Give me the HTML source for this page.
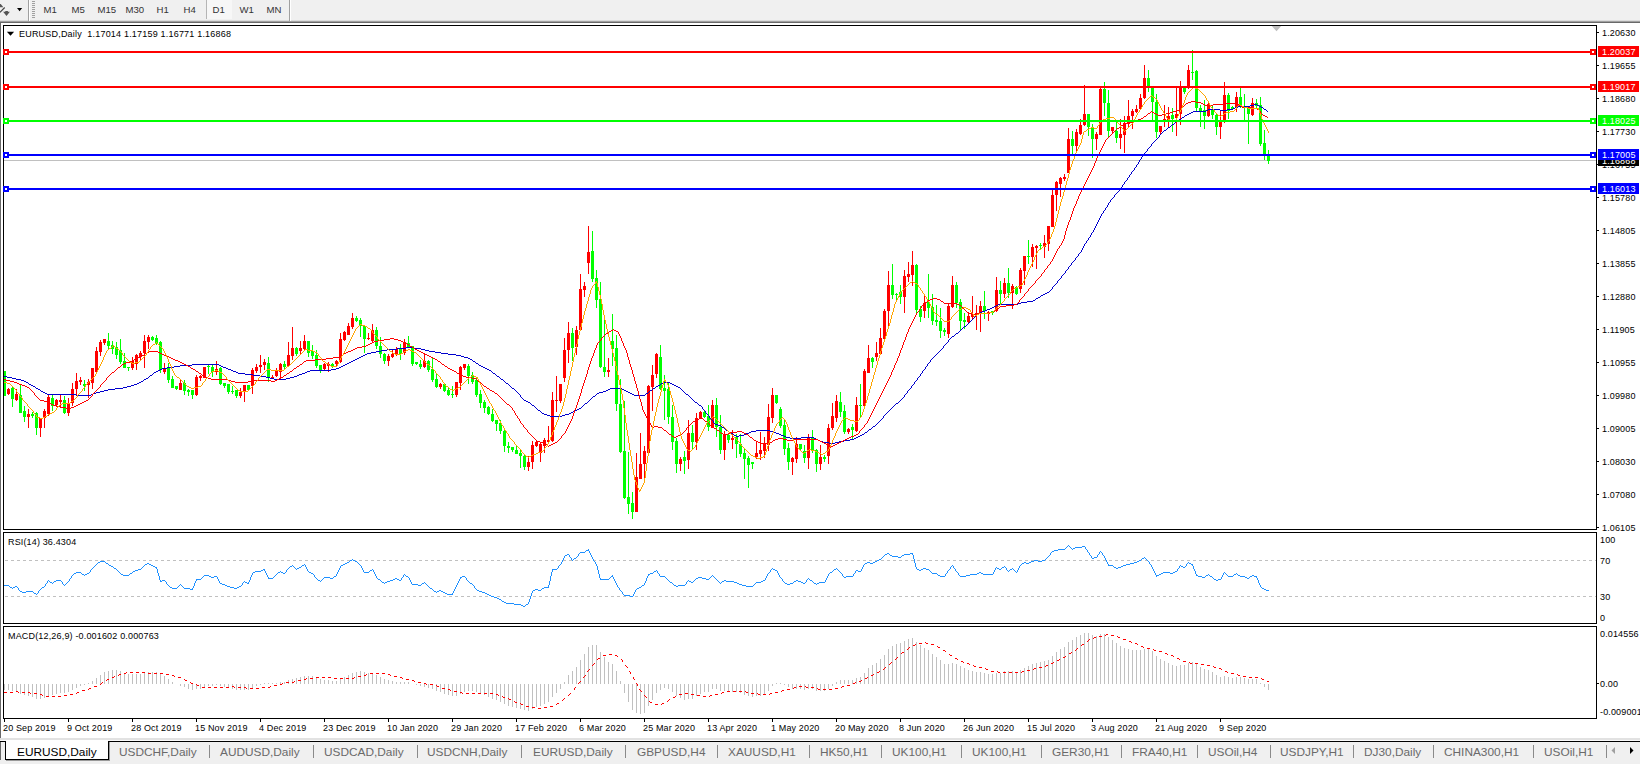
<!DOCTYPE html>
<html><head><meta charset="utf-8"><title>EURUSD,Daily</title>
<style>
html,body{margin:0;padding:0;overflow:hidden}
body{width:1640px;height:764px;overflow:hidden;background:#f0f0f0;position:relative;font-family:"Liberation Sans",sans-serif;font-size:9px;color:#000}
.abs{position:absolute}
.tb{position:absolute;top:0;height:19px;line-height:19px;font-size:9.6px;color:#333;white-space:nowrap;margin-left:.5px}
.white{position:absolute;left:1px;top:23px;width:1639px;height:715px;background:#fff}
.ln{position:absolute;background:#000}
.lbl{position:absolute;left:1602px;height:10px;line-height:10px;font-size:9px;white-space:nowrap;letter-spacing:0.15px;transform:translateY(0.7px)}
.tick{position:absolute;left:1597px;width:2px;height:1px;background:#000}
.box{position:absolute;left:1598px;width:41px;height:11px;line-height:11px;font-size:9px;color:#fff;white-space:nowrap;letter-spacing:0.15px}
.box span{display:inline-block;margin-left:4px;transform:translateY(0.5px)}
.hl{position:absolute;left:4px;width:1592px;height:2px}
.mk{position:absolute;width:2px;height:2px;border:2px solid;background:#fff}
.dt{position:absolute;top:722px;height:11px;line-height:11px;font-size:9px;white-space:nowrap;letter-spacing:0.14px;margin-left:-1px;transform:translateY(0.6px)}
.dtk{position:absolute;top:719px;width:1px;height:3px;background:#000}
.tab{position:absolute;top:743px;height:16px;line-height:16px;font-size:11px;color:#6a6a6a;white-space:nowrap;transform:translateY(0.7px) scaleX(1.077);transform-origin:0 0}
.sep{position:absolute;top:745px;width:1px;height:13px;background:#8a8a8a}
</style></head><body>
<!-- toolbar -->
<div class="abs" style="left:0;top:20px;width:1640px;height:1px;background:#dcdcdc"></div>
<div class="abs" style="left:0;top:21px;width:1640px;height:1px;background:#a0a0a0"></div>
<div class="abs" style="left:0;top:22px;width:1640px;height:1px;background:#696969"></div>
<svg class="abs" style="left:0;top:0" width="30" height="20" viewBox="0 0 30 20"><path d="M0 3.9h.7l2.3 2.8v.6H0z" fill="#555"/><path d="M0 12.4L4.7 7.5" stroke="#444" stroke-width="1.1" fill="none"/><path d="M3.1 11.7h2.2v-.6h2.6v.6h2L6.5 16z" fill="#555"/><path d="M17 8h5.2l-2.6 3.2z" fill="#000"/></svg>
<div class="abs" style="left:28px;top:0;width:1px;height:21px;background:#a0a0a0"></div>
<div class="abs" style="left:29px;top:0;width:1px;height:21px;background:#fff"></div>
<div class="abs" style="left:32px;top:1px;width:3px;height:17px;background:repeating-linear-gradient(#a0a0a0 0 1px,#f0f0f0 1px 2px)"></div>
<div class="tb" style="left:43px">M1</div>
<div class="tb" style="left:71px">M5</div>
<div class="tb" style="left:97px">M15</div>
<div class="tb" style="left:125px">M30</div>
<div class="tb" style="left:156px">H1</div>
<div class="tb" style="left:183px">H4</div>
<div class="abs" style="left:206px;top:0;width:25px;height:19px;background:#f7f7f7;border-left:1px solid #b5b5b5"></div>
<div class="tb" style="left:212px">D1</div>
<div class="tb" style="left:239px">W1</div>
<div class="tb" style="left:266px">MN</div>
<div class="abs" style="left:289px;top:0;width:1px;height:21px;background:#a0a0a0"></div>
<div class="abs" style="left:290px;top:0;width:1px;height:21px;background:#fff"></div>
<!-- chart window -->
<div class="white"></div>
<div class="abs" style="left:0;top:22px;width:1px;height:717px;background:#696969"></div>
<!-- frame lines -->
<div class="ln" style="left:3px;top:25px;width:1594px;height:1px"></div>
<div class="ln" style="left:3px;top:25px;width:1px;height:694px"></div>
<div class="ln" style="left:1596px;top:25px;width:1px;height:694px"></div>
<div class="ln" style="left:3px;top:529px;width:1594px;height:1px"></div>
<div class="abs" style="left:3px;top:530px;width:1594px;height:2px;background:#fff"></div>
<div class="ln" style="left:3px;top:532px;width:1594px;height:1px"></div>
<div class="ln" style="left:3px;top:623px;width:1594px;height:1px"></div>
<div class="abs" style="left:3px;top:624px;width:1594px;height:2px;background:#fff"></div>
<div class="ln" style="left:3px;top:626px;width:1594px;height:1px"></div>
<div class="ln" style="left:3px;top:718px;width:1594px;height:1px"></div>
<div class="tick" style="top:32px"></div><div class="lbl" style="top:27px">1.20630</div>
<div class="tick" style="top:65px"></div><div class="lbl" style="top:60px">1.19655</div>
<div class="tick" style="top:98px"></div><div class="lbl" style="top:93px">1.18680</div>
<div class="tick" style="top:131px"></div><div class="lbl" style="top:126px">1.17730</div>
<div class="tick" style="top:164px"></div><div class="lbl" style="top:159px">1.16755</div>
<div class="tick" style="top:197px"></div><div class="lbl" style="top:192px">1.15780</div>
<div class="tick" style="top:230px"></div><div class="lbl" style="top:225px">1.14805</div>
<div class="tick" style="top:263px"></div><div class="lbl" style="top:258px">1.13855</div>
<div class="tick" style="top:296px"></div><div class="lbl" style="top:291px">1.12880</div>
<div class="tick" style="top:329px"></div><div class="lbl" style="top:324px">1.11905</div>
<div class="tick" style="top:362px"></div><div class="lbl" style="top:357px">1.10955</div>
<div class="tick" style="top:395px"></div><div class="lbl" style="top:390px">1.09980</div>
<div class="tick" style="top:428px"></div><div class="lbl" style="top:423px">1.09005</div>
<div class="tick" style="top:461px"></div><div class="lbl" style="top:456px">1.08030</div>
<div class="tick" style="top:494px"></div><div class="lbl" style="top:489px">1.07080</div>
<div class="tick" style="top:527px"></div><div class="lbl" style="top:522px">1.06105</div>
<div class="lbl" style="left:1600px;top:534px">100</div>
<div class="lbl" style="left:1600px;top:555px">70</div>
<div class="lbl" style="left:1600px;top:591px">30</div>
<div class="lbl" style="left:1600px;top:612px">0</div>
<div class="lbl" style="left:1600px;top:628px">0.014556</div>
<div class="lbl" style="left:1600px;top:678px">0.00</div>
<div class="lbl" style="left:1600px;top:706px">-0.009001</div>
<div class="tick" style="top:683px;width:2px"></div>
<svg class="abs" style="left:0;top:0" width="1640" height="764" shape-rendering="crispEdges"><path d="M5 560.5H1596M5 596.5H1596" stroke="#c0c0c0" stroke-width="1" stroke-dasharray="3 3" fill="none"/></svg>
<svg width="1640" height="764" viewBox="0 0 1640 764" style="position:absolute;left:0;top:0" shape-rendering="crispEdges">
<rect x="4" y="160" width="1592" height="1" fill="#c0c0c0"/>
<defs><clipPath id="cc"><rect x="4" y="26" width="1592" height="503"/></clipPath></defs><g clip-path="url(#cc)">
<path d="M4.5 371V396M12.5 386V407M20.5 385V413M24.5 406V422M32.5 412V418M36.5 412V435M52.5 395V411M64.5 396V414M84.5 380V391M108.5 333V349M112.5 341V354M116.5 342V359M120.5 339V364M124.5 353V368M128.5 367V371M152.5 336V341M156.5 335V345M160.5 341V373M168.5 363V383M172.5 376V388M176.5 386V390M184.5 380V395M188.5 389V396M192.5 390V399M208.5 365V374M212.5 365V377M220.5 367V385M224.5 383V388M228.5 384V394M232.5 386V394M236.5 390V398M248.5 385V390M268.5 357V382M284.5 361V370M296.5 347V356M308.5 341V357M312.5 345V359M316.5 350V368M320.5 365V373M332.5 363V368M356.5 316V322M360.5 318V337M364.5 325V353M376.5 327V349M380.5 337V358M384.5 353V364M400.5 344V360M408.5 336V348M412.5 346V366M416.5 362V365M420.5 360V369M428.5 360V372M432.5 357V382M436.5 374V388M444.5 383V392M448.5 388V396M452.5 386V398M468.5 364V384M472.5 372V384M476.5 377V397M480.5 390V408M484.5 400V413M488.5 406V415M492.5 409V422M496.5 420V431M500.5 420V434M504.5 430V452M508.5 442V453M512.5 447V452M516.5 446V454M520.5 449V468M524.5 455V470M572.5 328V361M592.5 231V282M596.5 270V308M600.5 282V368M604.5 315V377M612.5 314V366M616.5 335V411M620.5 379V453M624.5 401V499M628.5 452V514M632.5 492V519M660.5 345V390M664.5 375V420M668.5 383V424M672.5 405V450M676.5 438V473M684.5 451V474M692.5 425V449M704.5 411V418M708.5 405V431M716.5 398V437M720.5 415V454M728.5 433V443M736.5 434V458M740.5 434V457M744.5 449V479M748.5 456V488M752.5 462V469M776.5 395V404M780.5 407V428M784.5 419V455M788.5 443V470M800.5 444V450M804.5 445V463M812.5 430V453M816.5 449V472M824.5 455V462M840.5 392V417M844.5 405V434M852.5 424V440M860.5 384V418M872.5 357V368M892.5 264V299M896.5 293V300M900.5 285V304M916.5 264V315M920.5 306V322M928.5 274V318M932.5 294V325M936.5 305V326M940.5 308V338M944.5 328V336M956.5 282V308M960.5 299V331M964.5 313V329M984.5 291V319M992.5 311V315M1000.5 281V305M1008.5 268V298M1016.5 286V295M1028.5 240V264M1040.5 243V249M1072.5 131V156M1088.5 114V136M1092.5 124V158M1104.5 82V116M1108.5 90V137M1116.5 121V143M1148.5 70V92M1152.5 86V120M1156.5 94V138M1172.5 108V132M1184.5 87V94M1192.5 50V80M1196.5 70V111M1200.5 105V127M1204.5 100V129M1212.5 105V119M1216.5 114V135M1228.5 93V119M1232.5 106V110M1240.5 88V108M1244.5 94V120M1248.5 106V144M1256.5 99V108M1260.5 97V146M1264.5 130V160M1268.5 150V164" fill="none" stroke="#00ff00" stroke-width="1"/>
<path d="M3 371h3v25h-3zM11 388h3v11h-3zM19 395h3v18h-3zM23 411h3v6h-3zM31 414h3v2h-3zM35 413h3v15h-3zM51 398h3v8h-3zM63 400h3v13h-3zM83 384h3v2h-3zM107 341h3v5h-3zM111 345h3v4h-3zM115 347h3v8h-3zM119 350h3v12h-3zM123 361h3v7h-3zM127 367h3v1h-3zM151 337h3v3h-3zM155 338h3v5h-3zM159 342h3v28h-3zM167 368h3v12h-3zM171 379h3v9h-3zM175 386h3v3h-3zM183 383h3v8h-3zM187 390h3v2h-3zM191 390h3v5h-3zM207 366h3v1h-3zM211 367h3v5h-3zM219 368h3v16h-3zM223 383h3v3h-3zM227 384h3v8h-3zM231 391h3v1h-3zM235 390h3v6h-3zM247 385h3v5h-3zM267 363h3v14h-3zM283 364h3v3h-3zM295 348h3v6h-3zM307 341h3v12h-3zM311 351h3v5h-3zM315 355h3v11h-3zM319 365h3v6h-3zM331 364h3v3h-3zM355 318h3v3h-3zM359 320h3v6h-3zM363 326h3v13h-3zM375 330h3v16h-3zM379 346h3v8h-3zM383 354h3v7h-3zM399 349h3v5h-3zM407 343h3v4h-3zM411 346h3v18h-3zM415 362h3v2h-3zM419 364h3v3h-3zM427 361h3v9h-3zM431 369h3v11h-3zM435 379h3v8h-3zM443 384h3v7h-3zM447 390h3v5h-3zM451 394h3v1h-3zM467 366h3v10h-3zM471 375h3v7h-3zM475 380h3v15h-3zM479 394h3v9h-3zM483 402h3v6h-3zM487 407h3v7h-3zM491 414h3v7h-3zM495 420h3v4h-3zM499 423h3v8h-3zM503 431h3v15h-3zM507 446h3v2h-3zM511 447h3v3h-3zM515 450h3v4h-3zM519 453h3v3h-3zM523 456h3v11h-3zM571 333h3v15h-3zM591 251h3v28h-3zM595 278h3v22h-3zM599 299h3v68h-3zM603 367h3v5h-3zM611 341h3v8h-3zM615 348h3v56h-3zM619 404h3v48h-3zM623 451h3v47h-3zM627 497h3v7h-3zM631 503h3v9h-3zM659 357h3v32h-3zM663 388h3v3h-3zM667 389h3v28h-3zM671 417h3v25h-3zM675 441h3v23h-3zM683 457h3v4h-3zM691 433h3v9h-3zM703 412h3v5h-3zM707 416h3v11h-3zM715 405h3v22h-3zM719 427h3v23h-3zM727 435h3v5h-3zM735 437h3v7h-3zM739 444h3v10h-3zM743 453h3v6h-3zM747 458h3v7h-3zM751 462h3v2h-3zM775 395h3v8h-3zM779 409h3v17h-3zM783 425h3v24h-3zM787 448h3v14h-3zM799 444h3v5h-3zM803 451h3v7h-3zM811 437h3v14h-3zM815 450h3v14h-3zM823 457h3v2h-3zM839 402h3v10h-3zM843 411h3v21h-3zM851 427h3v3h-3zM859 405h3v1h-3zM871 358h3v4h-3zM891 285h3v10h-3zM895 294h3v1h-3zM899 292h3v5h-3zM915 265h3v45h-3zM919 309h3v8h-3zM927 302h3v6h-3zM931 307h3v14h-3zM935 320h3v2h-3zM939 321h3v10h-3zM943 330h3v2h-3zM955 285h3v18h-3zM959 302h3v19h-3zM963 320h3v2h-3zM983 306h3v5h-3zM991 311h3v2h-3zM999 290h3v4h-3zM1007 283h3v10h-3zM1015 287h3v7h-3zM1027 256h3v1h-3zM1039 245h3v1h-3zM1071 139h3v7h-3zM1087 114h3v13h-3zM1091 127h3v12h-3zM1103 89h3v14h-3zM1107 103h3v28h-3zM1115 131h3v7h-3zM1147 78h3v9h-3zM1151 87h3v15h-3zM1155 102h3v30h-3zM1171 115h3v4h-3zM1183 88h3v4h-3zM1191 72h3v1h-3zM1195 71h3v37h-3zM1199 108h3v3h-3zM1203 110h3v6h-3zM1211 109h3v6h-3zM1215 115h3v12h-3zM1227 95h3v16h-3zM1231 107h3v2h-3zM1239 97h3v9h-3zM1243 106h3v2h-3zM1247 108h3v6h-3zM1255 103h3v3h-3zM1259 105h3v39h-3zM1263 143h3v12h-3zM1267 156h3v5h-3z" fill="#00ff00" stroke="none"/>
<path d="M8.5 388V395M16.5 389V401M28.5 409V428M40.5 418V437M44.5 409V428M48.5 395V416M56.5 399V407M60.5 395V407M68.5 398V416M72.5 383V406M76.5 373V396M80.5 377V385M88.5 379V398M92.5 368V389M96.5 347V372M100.5 340V356M104.5 339V345M132.5 357V370M136.5 354V370M140.5 351V361M144.5 335V368M148.5 335V349M164.5 363V374M180.5 380V390M196.5 375V396M200.5 375V381M204.5 367V378M216.5 361V375M240.5 388V398M244.5 385V402M252.5 368V394M256.5 364V373M260.5 355V373M264.5 359V370M272.5 375V379M276.5 368V377M280.5 363V378M288.5 342V367M292.5 327V360M300.5 341V354M304.5 335V350M324.5 363V371M328.5 362V372M336.5 360V367M340.5 333V363M344.5 331V341M348.5 323V335M352.5 313V329M368.5 333V340M372.5 324V342M388.5 354V366M392.5 350V358M396.5 347V356M404.5 339V355M424.5 353V368M440.5 383V389M456.5 382V397M460.5 366V390M464.5 364V370M528.5 456V471M532.5 441V469M536.5 441V447M540.5 442V462M544.5 438V453M548.5 426V442M552.5 392V442M556.5 376V412M560.5 384V403M564.5 338V382M568.5 322V363M576.5 326V355M580.5 274V330M584.5 282V297M588.5 226V274M608.5 358V377M636.5 453V512M640.5 433V479M644.5 446V479M648.5 385V453M652.5 365V411M656.5 353V378M680.5 457V471M688.5 420V469M696.5 413V450M700.5 411V419M712.5 400V428M724.5 431V460M732.5 430V449M756.5 441V459M760.5 432V460M764.5 437V458M768.5 404V451M772.5 388V423M792.5 457V475M796.5 437V463M808.5 434V469M820.5 445V470M828.5 424V464M832.5 403V430M836.5 395V422M848.5 428V434M856.5 397V432M864.5 369V407M868.5 345V373M876.5 342V361M880.5 328V354M884.5 309V341M888.5 271V328M904.5 270V313M908.5 262V282M912.5 251V286M924.5 294V318M948.5 304V338M952.5 276V308M968.5 313V323M972.5 296V319M976.5 305V330M980.5 301V332M988.5 311V321M996.5 277V312M1004.5 278V298M1012.5 284V309M1020.5 268V293M1024.5 256V285M1032.5 244V267M1036.5 245V269M1044.5 235V258M1048.5 226V251M1052.5 189V227M1056.5 181V211M1060.5 177V197M1064.5 174V181M1068.5 128V173M1076.5 129V153M1080.5 119V135M1084.5 85V126M1096.5 132V150M1100.5 87V135M1112.5 127V133M1120.5 119V149M1124.5 116V153M1128.5 100V127M1132.5 109V129M1136.5 105V113M1140.5 94V109M1144.5 65V99M1160.5 126V135M1164.5 105V127M1168.5 107V128M1176.5 87V136M1180.5 81V125M1188.5 65V89M1208.5 103V117M1220.5 111V139M1224.5 82V123M1236.5 92V112M1252.5 98V116" fill="none" stroke="#ff0000" stroke-width="1"/>
<path d="M7 389h3v5h-3zM15 394h3v6h-3zM27 414h3v3h-3zM39 418h3v10h-3zM43 411h3v7h-3zM47 397h3v17h-3zM55 400h3v5h-3zM59 400h3v2h-3zM67 403h3v10h-3zM71 389h3v14h-3zM75 381h3v8h-3zM79 380h3v2h-3zM87 382h3v3h-3zM91 368h3v15h-3zM95 351h3v21h-3zM99 342h3v10h-3zM103 339h3v4h-3zM131 361h3v7h-3zM135 355h3v9h-3zM139 353h3v4h-3zM143 341h3v12h-3zM147 337h3v5h-3zM163 368h3v4h-3zM179 383h3v7h-3zM195 377h3v18h-3zM199 376h3v2h-3zM203 367h3v11h-3zM215 369h3v3h-3zM239 392h3v4h-3zM243 385h3v7h-3zM251 370h3v16h-3zM255 367h3v4h-3zM259 365h3v2h-3zM263 362h3v3h-3zM271 377h3v2h-3zM275 370h3v6h-3zM279 364h3v8h-3zM287 355h3v11h-3zM291 348h3v8h-3zM299 348h3v3h-3zM303 341h3v8h-3zM323 364h3v5h-3zM327 364h3v2h-3zM335 361h3v3h-3zM339 339h3v23h-3zM343 332h3v8h-3zM347 326h3v9h-3zM351 318h3v9h-3zM367 338h3v1h-3zM371 330h3v11h-3zM387 356h3v5h-3zM391 354h3v3h-3zM395 349h3v6h-3zM403 342h3v11h-3zM423 361h3v6h-3zM439 384h3v3h-3zM455 382h3v13h-3zM459 367h3v16h-3zM463 364h3v4h-3zM527 462h3v5h-3zM531 445h3v17h-3zM535 442h3v4h-3zM539 444h3v9h-3zM543 440h3v6h-3zM547 440h3v2h-3zM551 400h3v41h-3zM555 400h3v1h-3zM559 384h3v17h-3zM563 350h3v28h-3zM567 333h3v17h-3zM575 330h3v17h-3zM579 289h3v41h-3zM583 286h3v4h-3zM587 252h3v11h-3zM607 370h3v2h-3zM635 477h3v35h-3zM639 464h3v15h-3zM643 451h3v13h-3zM647 386h3v67h-3zM651 375h3v12h-3zM655 354h3v20h-3zM679 459h3v5h-3zM687 433h3v27h-3zM695 418h3v24h-3zM699 412h3v6h-3zM711 405h3v23h-3zM723 434h3v16h-3zM731 438h3v2h-3zM755 453h3v4h-3zM759 450h3v4h-3zM763 444h3v7h-3zM767 417h3v28h-3zM771 395h3v23h-3zM791 458h3v4h-3zM795 444h3v15h-3zM807 438h3v20h-3zM819 457h3v7h-3zM827 428h3v28h-3zM831 416h3v12h-3zM835 401h3v17h-3zM847 429h3v3h-3zM855 405h3v26h-3zM863 371h3v35h-3zM867 358h3v15h-3zM875 353h3v4h-3zM879 338h3v16h-3zM883 311h3v28h-3zM887 285h3v26h-3zM903 276h3v21h-3zM907 274h3v3h-3zM911 265h3v10h-3zM923 303h3v8h-3zM947 306h3v28h-3zM951 285h3v22h-3zM967 316h3v6h-3zM971 314h3v3h-3zM975 313h3v2h-3zM979 306h3v8h-3zM987 312h3v2h-3zM995 290h3v21h-3zM1003 283h3v11h-3zM1011 286h3v7h-3zM1019 270h3v19h-3zM1023 256h3v15h-3zM1031 247h3v10h-3zM1035 246h3v2h-3zM1043 243h3v4h-3zM1047 226h3v18h-3zM1051 195h3v32h-3zM1055 182h3v13h-3zM1059 178h3v6h-3zM1063 177h3v2h-3zM1067 139h3v34h-3zM1075 132h3v14h-3zM1079 125h3v9h-3zM1083 114h3v11h-3zM1095 134h3v5h-3zM1099 89h3v46h-3zM1111 127h3v4h-3zM1119 134h3v4h-3zM1123 123h3v12h-3zM1127 116h3v8h-3zM1131 111h3v5h-3zM1135 109h3v3h-3zM1139 98h3v11h-3zM1143 78h3v20h-3zM1159 126h3v6h-3zM1163 119h3v1h-3zM1167 116h3v4h-3zM1175 114h3v4h-3zM1179 86h3v28h-3zM1187 70h3v18h-3zM1207 104h3v12h-3zM1219 122h3v5h-3zM1223 95h3v27h-3zM1235 97h3v10h-3zM1251 103h3v12h-3z" fill="#ff0000" stroke="none"/>
</g>
</svg>
<svg width="1640" height="764" viewBox="0 0 1640 764" style="position:absolute;left:0;top:0" shape-rendering="crispEdges">
<path d="M397 348h9v1h-9zM414 348h7v1h-7zM137 383h2v1h-2zM506 383h2v1h-2zM661 383h2v1h-2zM670 383h2v1h-2zM150 375h2v1h-2zM253 375h7v1h-7zM297 375h2v1h-2zM524 400h2v1h-2zM786 437h4v1h-4zM801 437h13v1h-13zM856 437h2v1h-2zM47 394h29v1h-29zM91 394h2v1h-2zM632 394h2v1h-2zM686 394h2v1h-2zM1238 106h12v1h-12zM1259 106h2v1h-2zM192 364h27v1h-27zM345 364h2v1h-2zM43 392h2v1h-2zM96 392h4v1h-4zM599 392h4v1h-4zM628 392h2v1h-2zM160 369h2v1h-2zM228 369h3v1h-3zM331 369h5v1h-5zM487 369h2v1h-2zM371 352h5v1h-5zM435 352h6v1h-6zM731 433h2v1h-2zM746 433h3v1h-3zM776 433h3v1h-3zM36 388h2v1h-2zM115 388h8v1h-8zM512 388h2v1h-2zM610 388h12v1h-12zM653 388h2v1h-2zM1235 107h3v1h-3zM1261 107h2v1h-2zM820 441h3v1h-3zM839 441h5v1h-5zM158 370h2v1h-2zM231 370h2v1h-2zM310 370h21v1h-21zM489 370h2v1h-2zM734 435h2v1h-2zM739 435h5v1h-5zM781 435h3v1h-3zM860 435h2v1h-2zM41 391h2v1h-2zM100 391h4v1h-4zM603 391h3v1h-3zM626 391h2v1h-2zM1208 109h12v1h-12zM1227 109h6v1h-6zM1264 109h2v1h-2zM76 395h15v1h-15zM634 395h11v1h-11zM16 379h5v1h-5zM144 379h2v1h-2zM274 379h12v1h-12zM501 379h2v1h-2zM1189 113h2v1h-2zM38 389h2v1h-2zM108 389h7v1h-7zM608 389h2v1h-2zM622 389h2v1h-2zM528 402h2v1h-2zM695 402h2v1h-2zM376 351h5v1h-5zM429 351h6v1h-6zM547 415h3v1h-3zM562 415h3v1h-3zM33 386h2v1h-2zM127 386h4v1h-4zM656 386h2v1h-2zM676 386h2v1h-2zM26 382h2v1h-2zM139 382h2v1h-2zM663 382h7v1h-7zM7 377h5v1h-5zM266 377h4v1h-4zM290 377h4v1h-4zM365 354h2v1h-2zM448 354h8v1h-8zM715 424h3v1h-3zM996 305h2v1h-2zM579 408h2v1h-2zM1193 111h13v1h-13zM353 360h2v1h-2zM1191 112h2v1h-2zM406 347h8v1h-8zM573 411h2v1h-2zM1187 114h2v1h-2zM538 410h2v1h-2zM575 410h2v1h-2zM174 366h6v1h-6zM221 366h2v1h-2zM341 366h2v1h-2zM481 366h2v1h-2zM167 367h7v1h-7zM223 367h3v1h-3zM339 367h2v1h-2zM483 367h2v1h-2zM526 401h2v1h-2zM363 355h2v1h-2zM456 355h5v1h-5zM12 378h4v1h-4zM146 378h2v1h-2zM270 378h4v1h-4zM286 378h4v1h-4zM4 376h3v1h-3zM260 376h6v1h-6zM294 376h3v1h-3zM497 376h2v1h-2zM998 304h20v1h-20zM245 374h8v1h-8zM299 374h3v1h-3zM1172 124h2v1h-2zM156 371h2v1h-2zM233 371h3v1h-3zM307 371h3v1h-3zM790 438h11v1h-11zM814 438h2v1h-2zM854 438h2v1h-2zM550 416h12v1h-12zM1021 302h6v1h-6zM381 350h6v1h-6zM425 350h4v1h-4zM744 434h2v1h-2zM779 434h2v1h-2zM862 434h2v1h-2zM355 359h2v1h-2zM470 359h2v1h-2zM823 442h6v1h-6zM835 442h4v1h-4zM736 436h3v1h-3zM784 436h2v1h-2zM858 436h2v1h-2zM361 356h2v1h-2zM461 356h3v1h-3zM816 439h2v1h-2zM850 439h4v1h-4zM956 333h2v1h-2zM154 372h2v1h-2zM236 372h2v1h-2zM305 372h2v1h-2zM818 440h2v1h-2zM844 440h6v1h-6zM1036 298h2v1h-2zM104 390h4v1h-4zM606 390h2v1h-2zM624 390h2v1h-2zM650 390h2v1h-2zM751 431h5v1h-5zM770 431h3v1h-3zM585 403h2v1h-2zM896 403h2v1h-2zM532 405h2v1h-2zM699 405h2v1h-2zM544 414h3v1h-3zM565 414h4v1h-4zM729 432h2v1h-2zM749 432h2v1h-2zM773 432h3v1h-3zM865 432h2v1h-2zM45 393h2v1h-2zM93 393h3v1h-3zM597 393h2v1h-2zM630 393h2v1h-2zM646 393h2v1h-2zM873 426h2v1h-2zM238 373h7v1h-7zM302 373h3v1h-3zM493 373h2v1h-2zM349 362h2v1h-2zM1250 105h4v1h-4zM1257 105h2v1h-2zM351 361h2v1h-2zM473 361h2v1h-2zM985 310h2v1h-2zM1033 300h2v1h-2zM387 349h10v1h-10zM421 349h4v1h-4zM180 365h12v1h-12zM219 365h2v1h-2zM343 365h2v1h-2zM479 365h2v1h-2zM726 430h2v1h-2zM756 430h14v1h-14zM1206 110h2v1h-2zM1220 110h7v1h-7zM1179 119h2v1h-2zM29 384h2v1h-2zM134 384h3v1h-3zM672 384h2v1h-2zM869 429h2v1h-2zM123 387h4v1h-4zM678 387h2v1h-2zM1164 130h2v1h-2zM577 409h2v1h-2zM359 357h2v1h-2zM464 357h4v1h-4zM1233 108h2v1h-2zM1254 104h3v1h-3zM994 306h2v1h-2zM162 368h5v1h-5zM226 368h2v1h-2zM336 368h3v1h-3zM485 368h2v1h-2zM542 413h2v1h-2zM569 413h2v1h-2zM571 412h2v1h-2zM829 443h6v1h-6zM1043 294h2v1h-2zM24 381h2v1h-2zM141 381h2v1h-2zM1045 293h2v1h-2zM718 425h3v1h-3zM1185 115h2v1h-2zM982 311h3v1h-3zM367 353h4v1h-4zM441 353h7v1h-7zM1168 127h2v1h-2zM31 385h2v1h-2zM131 385h3v1h-3zM658 385h2v1h-2zM674 385h2v1h-2zM1176 121h2v1h-2zM1041 295h2v1h-2zM992 307h2v1h-2zM1027 301h6v1h-6zM722 427h2v1h-2zM952 336h2v1h-2zM1018 303h3v1h-3zM21 380h3v1h-3zM357 358h2v1h-2zM468 358h2v1h-2zM1038 297h2v1h-2zM987 309h3v1h-3zM980 312h2v1h-2zM347 363h2v1h-2zM476 363h2v1h-2zM593 396h2v1h-2zM990 308h2v1h-2zM1047 292h2v1h-2zM978 313h2v1h-2zM964 326h2v1h-2zM1182 117h2v1h-2zM1063 274h1v1h-1zM920 374h1v2h-1zM1095 226h1v2h-1zM589 400h1v1h-1zM967 324h1v1h-1zM1087 240h1v1h-1zM881 419h1v1h-1zM495 374h1v1h-1zM1103 211h1v2h-1zM509 385h1v1h-1zM960 330h1v1h-1zM1127 178h1v2h-1zM1112 198h1v1h-1zM1139 160h1v2h-1zM510 386h1v1h-1zM1071 263h1v2h-1zM1151 144h1v2h-1zM1107 205h1v2h-1zM680 388h1v1h-1zM1083 246h1v2h-1zM649 391h1v1h-1zM900 400h1v1h-1zM1052 287h1v2h-1zM681 389h1v1h-1zM713 421h1v2h-1zM1099 218h1v2h-1zM916 380h1v1h-1zM939 351h1v1h-1zM884 415h1v1h-1zM531 404h1v1h-1zM911 386h1v2h-1zM1174 123h1v1h-1zM1118 191h1v1h-1zM923 370h1v1h-1zM974 317h1v1h-1zM908 390h1v1h-1zM1130 174h1v1h-1zM523 399h1v1h-1zM702 407h1v2h-1zM936 354h1v1h-1zM705 411h1v2h-1zM872 427h1v1h-1zM1115 194h1v1h-1zM706 413h1v1h-1zM1158 137h1v1h-1zM1094 228h1v2h-1zM876 424h1v1h-1zM504 381h1v1h-1zM1110 200h1v2h-1zM505 382h1v1h-1zM516 391h1v1h-1zM891 408h1v1h-1zM1178 120h1v1h-1zM1090 235h1v2h-1zM478 364h1v1h-1zM698 404h1v1h-1zM1106 207h1v1h-1zM1051 289h1v1h-1zM1098 220h1v2h-1zM943 346h1v2h-1zM888 411h1v1h-1zM728 431h1v1h-1zM1142 156h1v1h-1zM537 409h1v1h-1zM148 377h1v1h-1zM883 416h1v2h-1zM694 401h1v1h-1zM697 403h1v1h-1zM919 376h1v1h-1zM962 328h1v1h-1zM907 391h1v2h-1zM1126 180h1v1h-1zM931 359h1v1h-1zM1129 175h1v2h-1zM951 337h1v1h-1zM1138 162h1v2h-1zM1150 146h1v1h-1zM966 325h1v1h-1zM914 382h1v2h-1zM1054 285h1v1h-1zM946 343h1v1h-1zM949 339h1v1h-1zM1035 299h1v1h-1zM1145 152h1v1h-1zM1082 248h1v2h-1zM895 404h1v1h-1zM1070 265h1v1h-1zM500 378h1v1h-1zM591 398h1v1h-1zM1161 133h1v1h-1zM511 387h1v1h-1zM1184 116h1v1h-1zM648 392h1v1h-1zM1065 271h1v2h-1zM595 395h1v1h-1zM693 400h1v1h-1zM922 371h1v2h-1zM1062 275h1v1h-1zM1086 241h1v2h-1zM969 322h1v1h-1zM682 390h1v1h-1zM938 352h1v1h-1zM1102 213h1v1h-1zM582 406h1v1h-1zM1114 195h1v2h-1zM1117 192h1v1h-1zM1093 230h1v2h-1zM1153 142h1v1h-1zM878 422h1v1h-1zM1141 157h1v2h-1zM867 431h1v1h-1zM902 398h1v1h-1zM1124 182h1v2h-1zM1109 202h1v1h-1zM1136 165h1v2h-1zM871 428h1v1h-1zM1148 148h1v1h-1zM708 415h1v1h-1zM976 315h1v1h-1zM1105 208h1v2h-1zM910 388h1v1h-1zM1097 222h1v2h-1zM1120 188h1v1h-1zM1089 237h1v1h-1zM905 394h1v1h-1zM496 375h1v1h-1zM1057 281h1v2h-1zM1073 261h1v1h-1zM707 414h1v1h-1zM875 425h1v1h-1zM933 357h1v1h-1zM893 406h1v1h-1zM913 384h1v1h-1zM1068 267h1v2h-1zM925 367h1v2h-1zM928 363h1v1h-1zM1081 250h1v2h-1zM492 372h1v1h-1zM1163 131h1v1h-1zM890 409h1v1h-1zM1108 203h1v2h-1zM1132 171h1v1h-1zM1144 153h1v2h-1zM945 344h1v1h-1zM1167 128h1v1h-1zM1076 257h1v1h-1zM1079 253h1v1h-1zM971 320h1v1h-1zM590 399h1v1h-1zM882 418h1v1h-1zM921 373h1v1h-1zM491 371h1v1h-1zM1096 224h1v2h-1zM968 323h1v1h-1zM1155 140h1v1h-1zM1056 283h1v1h-1zM1123 184h1v1h-1zM904 395h1v2h-1zM948 340h1v2h-1zM1135 167h1v1h-1zM517 392h1v1h-1zM733 434h1v1h-1zM1147 149h1v2h-1zM1092 232h1v1h-1zM1171 125h1v1h-1zM688 395h1v1h-1zM1064 273h1v1h-1zM1175 122h1v1h-1zM924 369h1v1h-1zM1088 238h1v2h-1zM940 350h1v1h-1zM885 414h1v1h-1zM152 374h1v1h-1zM584 404h1v1h-1zM1059 279h1v1h-1zM975 316h1v1h-1zM710 418h1v1h-1zM1128 177h1v1h-1zM1104 210h1v1h-1zM1266 110h1v1h-1zM955 334h1v1h-1zM475 362h1v1h-1zM1075 258h1v2h-1zM684 392h1v1h-1zM901 399h1v1h-1zM724 428h1v1h-1zM959 331h1v1h-1zM725 429h1v1h-1zM1067 269h1v1h-1zM1100 216h1v2h-1zM520 395h1v2h-1zM899 401h1v1h-1zM709 416h1v2h-1zM1119 189h1v2h-1zM1122 185h1v2h-1zM892 407h1v1h-1zM1131 172h1v2h-1zM912 385h1v1h-1zM1134 168h1v2h-1zM588 401h1v1h-1zM880 420h1v1h-1zM683 391h1v1h-1zM1091 233h1v2h-1zM581 407h1v1h-1zM1162 132h1v1h-1zM877 423h1v1h-1zM935 355h1v1h-1zM1111 199h1v1h-1zM932 358h1v1h-1zM927 364h1v2h-1zM930 360h1v2h-1zM660 384h1v1h-1zM472 360h1v1h-1zM947 342h1v1h-1zM1078 254h1v2h-1zM973 318h1v1h-1zM1181 118h1v1h-1zM1146 151h1v1h-1zM1166 129h1v1h-1zM592 397h1v1h-1zM970 321h1v1h-1zM942 348h1v1h-1zM519 394h1v1h-1zM690 397h1v1h-1zM534 406h1v1h-1zM652 389h1v1h-1zM1101 214h1v2h-1zM1154 141h1v1h-1zM915 381h1v1h-1zM918 377h1v1h-1zM903 397h1v1h-1zM1055 284h1v1h-1zM1125 181h1v1h-1zM1058 280h1v1h-1zM950 338h1v1h-1zM864 433h1v1h-1zM1137 164h1v1h-1zM645 394h1v1h-1zM954 335h1v1h-1zM1050 290h1v1h-1zM887 412h1v1h-1zM712 420h1v1h-1zM518 393h1v1h-1zM1066 270h1v1h-1zM1157 138h1v1h-1zM1160 134h1v1h-1zM530 403h1v1h-1zM1061 276h1v2h-1zM689 396h1v1h-1zM508 384h1v1h-1zM583 405h1v1h-1zM143 380h1v1h-1zM1085 243h1v1h-1zM701 406h1v1h-1zM587 402h1v1h-1zM711 419h1v1h-1zM879 421h1v1h-1zM937 353h1v1h-1zM868 430h1v1h-1zM961 329h1v1h-1zM1074 260h1v1h-1zM1113 197h1v1h-1zM958 332h1v1h-1zM1149 147h1v1h-1zM540 411h1v1h-1zM1267 111h1v1h-1zM1053 286h1v1h-1zM40 390h1v1h-1zM541 412h1v1h-1zM977 314h1v1h-1zM35 387h1v1h-1zM1121 187h1v1h-1zM926 366h1v1h-1zM1133 170h1v1h-1zM906 393h1v1h-1zM909 389h1v1h-1zM1116 193h1v1h-1zM1152 143h1v1h-1zM1077 256h1v1h-1zM503 380h1v1h-1zM934 356h1v1h-1zM685 393h1v1h-1zM515 390h1v1h-1zM894 405h1v1h-1zM917 378h1v2h-1zM1069 266h1v1h-1zM1072 262h1v1h-1zM929 362h1v1h-1zM521 397h1v1h-1zM1084 244h1v2h-1zM898 402h1v1h-1zM522 398h1v1h-1zM703 409h1v1h-1zM536 408h1v1h-1zM704 410h1v1h-1zM1263 108h1v1h-1zM1080 252h1v1h-1zM499 377h1v1h-1zM28 383h1v1h-1zM972 319h1v1h-1zM1159 135h1v2h-1zM1049 291h1v1h-1zM1140 159h1v1h-1zM941 349h1v1h-1zM886 413h1v1h-1zM1143 155h1v1h-1zM514 389h1v1h-1zM149 376h1v1h-1zM1156 139h1v1h-1zM153 373h1v1h-1zM963 327h1v1h-1zM655 387h1v1h-1zM1040 296h1v1h-1zM691 398h1v1h-1zM535 407h1v1h-1zM889 410h1v1h-1zM721 426h1v1h-1zM692 399h1v1h-1zM714 423h1v1h-1zM1170 126h1v1h-1zM944 345h1v1h-1zM596 394h1v1h-1zM1060 278h1v1h-1z" fill="#0000cd"/>
<path d="M699 418h4v1h-4zM208 378h3v1h-3zM279 378h2v1h-2zM472 378h4v1h-4zM118 367h2v1h-2zM693 421h2v1h-2zM705 421h2v1h-2zM775 439h3v1h-3zM783 439h4v1h-4zM793 439h25v1h-25zM845 439h2v1h-2zM10 381h4v1h-4zM231 381h4v1h-4zM248 381h5v1h-5zM271 381h4v1h-4zM112 372h2v1h-2zM540 442h4v1h-4zM555 442h2v1h-2zM758 442h3v1h-3zM770 442h2v1h-2zM822 442h2v1h-2zM839 442h2v1h-2zM1186 103h2v1h-2zM1201 103h2v1h-2zM1223 103h15v1h-15zM537 441h3v1h-3zM756 441h2v1h-2zM820 441h2v1h-2zM841 441h2v1h-2zM374 341h4v1h-4zM401 341h2v1h-2zM967 312h2v1h-2zM990 312h3v1h-3zM48 402h2v1h-2zM82 402h2v1h-2zM553 443h2v1h-2zM761 443h9v1h-9zM824 443h2v1h-2zM837 443h2v1h-2zM124 363h2v1h-2zM182 363h2v1h-2zM149 351h9v1h-9zM348 351h3v1h-3zM419 351h2v1h-2zM366 345h2v1h-2zM754 440h2v1h-2zM773 440h2v1h-2zM787 440h6v1h-6zM818 440h2v1h-2zM843 440h2v1h-2zM138 357h2v1h-2zM169 357h2v1h-2zM333 357h7v1h-7zM431 357h2v1h-2zM669 434h2v1h-2zM680 434h2v1h-2zM723 434h5v1h-5zM746 434h2v1h-2zM856 434h2v1h-2zM492 391h2v1h-2zM1242 107h11v1h-11zM193 369h2v1h-2zM450 369h2v1h-2zM1188 102h3v1h-3zM1196 102h5v1h-5zM204 376h2v1h-2zM463 376h3v1h-3zM737 431h5v1h-5zM357 347h5v1h-5zM412 347h2v1h-2zM1158 115h4v1h-4zM1263 115h2v1h-2zM1173 111h4v1h-4zM191 368h2v1h-2zM294 368h2v1h-2zM448 368h2v1h-2zM51 404h2v1h-2zM78 404h2v1h-2zM507 404h2v1h-2zM147 352h2v1h-2zM158 352h2v1h-2zM346 352h2v1h-2zM421 352h2v1h-2zM355 348h2v1h-2zM831 446h2v1h-2zM362 346h4v1h-4zM410 346h2v1h-2zM142 355h2v1h-2zM164 355h2v1h-2zM427 355h2v1h-2zM17 383h2v1h-2zM368 344h2v1h-2zM407 344h2v1h-2zM1205 105h8v1h-8zM1239 105h2v1h-2zM1133 121h3v1h-3zM495 393h2v1h-2zM674 437h2v1h-2zM750 437h2v1h-2zM849 437h2v1h-2zM199 373h2v1h-2zM287 373h2v1h-2zM457 373h2v1h-2zM933 298h4v1h-4zM196 371h2v1h-2zM290 371h2v1h-2zM454 371h2v1h-2zM134 359h2v1h-2zM173 359h2v1h-2zM315 359h11v1h-11zM435 359h2v1h-2zM1123 124h3v1h-3zM730 432h7v1h-7zM742 432h2v1h-2zM27 387h2v1h-2zM186 365h2v1h-2zM14 382h3v1h-3zM235 382h13v1h-13zM479 382h2v1h-2zM487 388h2v1h-2zM126 362h4v1h-4zM180 362h2v1h-2zM19 384h3v1h-3zM959 305h2v1h-2zM1006 305h8v1h-8zM973 314h4v1h-4zM53 405h3v1h-3zM76 405h2v1h-2zM696 419h3v1h-3zM132 360h2v1h-2zM175 360h3v1h-3zM306 360h9v1h-9zM60 407h6v1h-6zM71 407h3v1h-3zM452 370h2v1h-2zM378 340h6v1h-6zM398 340h3v1h-3zM145 353h2v1h-2zM160 353h2v1h-2zM344 353h2v1h-2zM423 353h2v1h-2zM370 343h2v1h-2zM405 343h2v1h-2zM941 301h2v1h-2zM162 354h2v1h-2zM425 354h2v1h-2zM1253 108h4v1h-4zM778 438h5v1h-5zM847 438h2v1h-2zM6 380h4v1h-4zM228 380h3v1h-3zM253 380h18v1h-18zM275 380h2v1h-2zM384 339h6v1h-6zM394 339h4v1h-4zM678 435h2v1h-2zM854 435h2v1h-2zM944 303h13v1h-13zM930 299h3v1h-3zM937 299h3v1h-3zM1156 114h2v1h-2zM1162 114h4v1h-4zM459 374h2v1h-2zM372 342h2v1h-2zM403 342h2v1h-2zM56 406h4v1h-4zM74 406h2v1h-2zM40 400h4v1h-4zM86 400h2v1h-2zM969 313h4v1h-4zM977 313h13v1h-13zM490 390h2v1h-2zM188 366h2v1h-2zM297 366h2v1h-2zM445 366h2v1h-2zM721 433h2v1h-2zM728 433h2v1h-2zM744 433h2v1h-2zM136 358h2v1h-2zM171 358h2v1h-2zM326 358h7v1h-7zM433 358h2v1h-2zM664 430h2v1h-2zM717 430h2v1h-2zM1148 113h2v1h-2zM1154 113h2v1h-2zM1166 113h4v1h-4zM351 350h2v1h-2zM417 350h2v1h-2zM545 444h2v1h-2zM551 444h2v1h-2zM835 444h2v1h-2zM652 427h2v1h-2zM658 427h4v1h-4zM44 401h4v1h-4zM84 401h2v1h-2zM353 349h2v1h-2zM415 349h2v1h-2zM25 386h2v1h-2zM484 386h2v1h-2zM654 426h4v1h-4zM4 379h2v1h-2zM211 379h17v1h-17zM277 379h2v1h-2zM1203 104h2v1h-2zM1213 104h10v1h-10zM206 377h2v1h-2zM281 377h2v1h-2zM466 377h6v1h-6zM202 375h2v1h-2zM284 375h2v1h-2zM461 375h2v1h-2zM80 403h2v1h-2zM140 356h2v1h-2zM166 356h3v1h-3zM340 356h2v1h-2zM429 356h2v1h-2zM672 436h2v1h-2zM676 436h2v1h-2zM851 436h3v1h-3zM1000 306h6v1h-6zM130 361h2v1h-2zM178 361h2v1h-2zM304 361h2v1h-2zM438 361h2v1h-2zM714 428h2v1h-2zM22 385h3v1h-3zM1257 109h2v1h-2zM1144 116h2v1h-2zM1265 116h2v1h-2zM606 333h2v1h-2zM122 364h2v1h-2zM184 364h2v1h-2zM300 364h2v1h-2zM442 364h2v1h-2zM1141 118h2v1h-2zM1177 110h2v1h-2zM993 311h2v1h-2zM997 308h2v1h-2zM1152 112h2v1h-2zM1170 112h3v1h-3zM1129 122h4v1h-4zM1121 125h2v1h-2zM66 408h5v1h-5zM925 302h2v1h-2zM1182 106h2v1h-2zM710 425h2v1h-2zM928 300h2v1h-2zM957 304h2v1h-2zM1014 304h3v1h-3zM609 331h2v1h-2zM616 331h2v1h-2zM390 338h4v1h-4zM1191 101h5v1h-5zM611 330h2v1h-2zM614 330h2v1h-2zM549 445h2v1h-2zM827 445h2v1h-2zM833 445h2v1h-2zM1126 123h3v1h-3zM1117 128h2v1h-2zM1138 119h3v1h-3zM1136 120h2v1h-2zM869 417h1v2h-1zM1044 270h1v2h-1zM1101 148h1v2h-1zM512 408h1v2h-1zM574 410h1v3h-1zM586 374h1v3h-1zM34 393h1v2h-1zM634 377h1v4h-1zM894 365h1v3h-1zM516 415h1v1h-1zM963 308h1v1h-1zM581 389h1v4h-1zM1093 166h1v2h-1zM882 391h1v2h-1zM635 381h1v3h-1zM1105 140h1v2h-1zM594 350h1v3h-1zM289 372h1v1h-1zM964 309h1v1h-1zM1052 259h1v2h-1zM687 427h1v1h-1zM914 317h1v2h-1zM620 336h1v2h-1zM293 369h1v1h-1zM709 424h1v1h-1zM573 413h1v3h-1zM628 357h1v3h-1zM638 391h1v4h-1zM1068 222h1v3h-1zM577 402h1v3h-1zM641 402h1v4h-1zM621 338h1v3h-1zM873 409h1v2h-1zM1057 249h1v2h-1zM1262 114h1v1h-1zM682 433h1v1h-1zM99 387h1v1h-1zM663 429h1v1h-1zM897 358h1v3h-1zM642 406h1v4h-1zM906 334h1v3h-1zM627 353h1v4h-1zM1084 184h1v2h-1zM921 306h1v2h-1zM486 387h1v1h-1zM1096 158h1v3h-1zM110 374h1v1h-1zM1143 117h1v1h-1zM519 419h1v2h-1zM1077 199h1v2h-1zM889 377h1v2h-1zM114 371h1v1h-1zM1064 235h1v4h-1zM1076 201h1v3h-1zM33 392h1v1h-1zM1056 251h1v2h-1zM523 425h1v2h-1zM613 329h1v1h-1zM905 337h1v3h-1zM568 425h1v2h-1zM909 327h1v2h-1zM1024 294h1v2h-1zM530 434h1v1h-1zM888 379h1v2h-1zM1060 245h1v1h-1zM597 343h1v2h-1zM865 424h1v1h-1zM719 431h1v1h-1zM585 377h1v3h-1zM102 383h1v1h-1zM637 388h1v3h-1zM1040 276h1v1h-1zM572 416h1v3h-1zM720 432h1v1h-1zM913 319h1v2h-1zM576 405h1v3h-1zM893 368h1v2h-1zM631 367h1v3h-1zM860 430h1v1h-1zM580 393h1v3h-1zM1181 107h1v1h-1zM1092 168h1v2h-1zM121 365h1v1h-1zM1147 114h1v1h-1zM1104 142h1v2h-1zM884 387h1v2h-1zM515 413h1v2h-1zM584 380h1v3h-1zM596 345h1v3h-1zM605 334h1v1h-1zM624 346h1v2h-1zM1151 111h1v1h-1zM500 397h1v1h-1zM456 372h1v1h-1zM548 446h1v1h-1zM877 401h1v2h-1zM1032 285h1v1h-1zM94 392h1v1h-1zM481 383h1v1h-1zM648 419h1v2h-1zM501 398h1v1h-1zM1088 176h1v2h-1zM868 419h1v2h-1zM414 348h1v1h-1zM1043 272h1v1h-1zM1100 150h1v2h-1zM1261 113h1v1h-1zM482 384h1v1h-1zM1112 133h1v1h-1zM917 312h1v1h-1zM1027 291h1v1h-1zM89 398h1v1h-1zM829 446h1v1h-1zM593 353h1v3h-1zM342 355h1v1h-1zM830 447h1v1h-1zM1063 239h1v2h-1zM1075 204h1v2h-1zM1087 178h1v2h-1zM1099 152h1v2h-1zM1185 104h1v1h-1zM904 340h1v2h-1zM544 443h1v1h-1zM651 425h1v2h-1zM940 300h1v1h-1zM1035 281h1v2h-1zM447 367h1v1h-1zM518 418h1v1h-1zM872 411h1v2h-1zM623 343h1v3h-1zM36 396h1v1h-1zM1059 246h1v2h-1zM864 425h1v2h-1zM1083 186h1v2h-1zM571 419h1v2h-1zM920 308h1v1h-1zM644 412h1v2h-1zM1051 261h1v1h-1zM629 360h1v4h-1zM716 429h1v1h-1zM1119 127h1v1h-1zM560 438h1v1h-1zM563 434h1v1h-1zM912 321h1v2h-1zM575 408h1v2h-1zM587 370h1v4h-1zM966 311h1v1h-1zM892 370h1v2h-1zM1260 111h1v2h-1zM859 431h1v2h-1zM619 334h1v2h-1zM1091 170h1v2h-1zM883 389h1v2h-1zM1055 253h1v2h-1zM1241 106h1v1h-1zM895 363h1v2h-1zM567 427h1v2h-1zM299 365h1v1h-1zM444 365h1v1h-1zM908 329h1v3h-1zM626 350h1v3h-1zM1071 214h1v3h-1zM477 380h1v1h-1zM29 388h1v1h-1zM303 362h1v1h-1zM900 350h1v3h-1zM521 423h1v1h-1zM887 381h1v2h-1zM689 425h1v1h-1zM772 441h1v1h-1zM1019 300h1v2h-1zM867 421h1v2h-1zM630 364h1v3h-1zM514 411h1v2h-1zM522 424h1v1h-1zM588 367h1v3h-1zM916 313h1v2h-1zM903 342h1v3h-1zM566 429h1v2h-1zM592 356h1v2h-1zM684 431h1v1h-1zM907 332h1v2h-1zM1070 217h1v3h-1zM579 396h1v3h-1zM633 374h1v3h-1zM923 304h1v1h-1zM92 394h1v2h-1zM899 353h1v3h-1zM583 383h1v3h-1zM595 348h1v2h-1zM995 310h1v1h-1zM878 399h1v2h-1zM116 369h1v1h-1zM532 436h1v1h-1zM636 384h1v4h-1zM1103 144h1v2h-1zM999 307h1v1h-1zM1034 283h1v1h-1zM891 372h1v3h-1zM1082 188h1v2h-1zM120 366h1v1h-1zM632 370h1v4h-1zM871 413h1v2h-1zM578 399h1v3h-1zM476 379h1v1h-1zM1094 163h1v3h-1zM650 423h1v2h-1zM640 399h1v3h-1zM625 348h1v2h-1zM1067 225h1v3h-1zM570 421h1v2h-1zM582 386h1v3h-1zM517 416h1v2h-1zM520 421h1v2h-1zM1107 138h1v1h-1zM646 416h1v2h-1zM104 381h1v1h-1zM1267 117h1v1h-1zM965 310h1v1h-1zM639 395h1v4h-1zM647 418h1v1h-1zM1078 196h1v3h-1zM1062 241h1v2h-1zM599 341h1v1h-1zM1042 273h1v1h-1zM1074 206h1v2h-1zM502 399h1v1h-1zM1054 255h1v2h-1zM927 301h1v1h-1zM1066 228h1v3h-1zM503 400h1v1h-1zM1037 279h1v1h-1zM591 358h1v3h-1zM1180 108h1v1h-1zM1098 154h1v2h-1zM618 332h1v2h-1zM886 383h1v2h-1zM1018 302h1v1h-1zM902 345h1v3h-1zM1065 231h1v4h-1zM1050 262h1v2h-1zM565 431h1v2h-1zM649 421h1v2h-1zM107 377h1v1h-1zM1114 131h1v1h-1zM590 361h1v3h-1zM919 309h1v2h-1zM524 427h1v1h-1zM1045 269h1v1h-1zM911 323h1v2h-1zM1026 292h1v1h-1zM643 410h1v2h-1zM531 435h1v1h-1zM1086 180h1v2h-1zM875 405h1v2h-1zM707 422h1v1h-1zM39 399h1v1h-1zM483 385h1v1h-1zM691 423h1v1h-1zM1021 298h1v1h-1zM286 374h1v1h-1zM96 390h1v1h-1zM1073 208h1v3h-1zM686 428h1v2h-1zM30 389h1v1h-1zM645 414h1v2h-1zM91 396h1v1h-1zM1029 288h1v1h-1zM562 435h1v1h-1zM31 390h1v1h-1zM1090 172h1v2h-1zM602 337h1v1h-1zM1102 146h1v2h-1zM858 433h1v1h-1zM37 397h1v1h-1zM1072 211h1v3h-1zM1081 190h1v2h-1zM870 415h1v2h-1zM88 399h1v1h-1zM111 373h1v1h-1zM557 441h1v1h-1zM38 398h1v1h-1zM569 423h1v2h-1zM695 420h1v1h-1zM890 375h1v2h-1zM1109 136h1v1h-1zM589 364h1v3h-1zM106 378h1v2h-1zM881 393h1v2h-1zM1041 274h1v2h-1zM1069 220h1v2h-1zM478 381h1v1h-1zM898 356h1v2h-1zM683 432h1v1h-1zM509 405h1v1h-1zM1061 243h1v2h-1zM1048 265h1v1h-1zM861 429h1v1h-1zM1085 182h1v2h-1zM922 305h1v1h-1zM1097 156h1v2h-1zM198 372h1v1h-1zM527 430h1v2h-1zM498 395h1v1h-1zM201 374h1v1h-1zM901 348h1v2h-1zM826 444h1v1h-1zM885 385h1v2h-1zM1033 284h1v1h-1zM671 435h1v1h-1zM1116 129h1v1h-1zM876 403h1v2h-1zM910 325h1v2h-1zM1120 126h1v1h-1zM1028 289h1v2h-1zM1089 174h1v2h-1zM601 338h1v2h-1zM103 382h1v1h-1zM712 426h1v1h-1zM1113 132h1v1h-1zM598 342h1v1h-1zM1080 192h1v2h-1zM713 427h1v1h-1zM497 394h1v1h-1zM98 388h1v1h-1zM1039 277h1v1h-1zM101 384h1v1h-1zM667 432h1v1h-1zM440 362h1v1h-1zM1238 104h1v1h-1zM1017 303h1v1h-1zM1020 299h1v1h-1zM441 363h1v1h-1zM533 437h1v1h-1zM504 401h1v1h-1zM1146 115h1v1h-1zM109 375h1v1h-1zM534 438h1v1h-1zM604 335h1v1h-1zM1047 266h1v2h-1zM90 397h1v1h-1zM608 332h1v1h-1zM292 370h1v1h-1zM666 431h1v1h-1zM296 367h1v1h-1zM525 428h1v1h-1zM1023 296h1v1h-1zM190 367h1v1h-1zM880 395h1v2h-1zM690 424h1v1h-1zM526 429h1v1h-1zM1036 280h1v1h-1zM144 354h1v1h-1zM1108 137h1v1h-1zM1184 105h1v1h-1zM708 423h1v1h-1zM1150 112h1v1h-1zM924 303h1v1h-1zM1031 286h1v1h-1zM564 433h1v1h-1zM93 393h1v1h-1zM1079 194h1v2h-1zM753 439h1v1h-1zM1058 248h1v1h-1zM559 439h1v1h-1zM896 361h1v2h-1zM962 307h1v1h-1zM1095 161h1v2h-1zM489 389h1v1h-1zM437 360h1v1h-1zM1111 134h1v1h-1zM511 407h1v1h-1zM622 341h1v2h-1zM685 430h1v1h-1zM662 428h1v1h-1zM863 427h1v1h-1zM866 423h1v1h-1zM996 309h1v1h-1zM879 397h1v2h-1zM961 306h1v1h-1zM117 368h1v1h-1zM32 391h1v1h-1zM703 419h1v1h-1zM97 389h1v1h-1zM704 420h1v1h-1zM528 432h1v1h-1zM499 396h1v1h-1zM115 370h1v1h-1zM943 302h1v1h-1zM529 433h1v1h-1zM749 436h1v1h-1zM302 363h1v1h-1zM688 426h1v1h-1zM915 315h1v2h-1zM105 380h1v1h-1zM108 376h1v1h-1zM752 438h1v1h-1zM1115 130h1v1h-1zM600 340h1v1h-1zM603 336h1v1h-1zM1046 268h1v1h-1zM506 403h1v1h-1zM1106 139h1v1h-1zM100 385h1v2h-1zM874 407h1v2h-1zM536 440h1v1h-1zM1053 257h1v2h-1zM409 345h1v1h-1zM1038 278h1v1h-1zM510 406h1v1h-1zM50 403h1v1h-1zM1179 109h1v1h-1zM35 395h1v1h-1zM547 445h1v1h-1zM748 435h1v1h-1zM1049 264h1v1h-1zM561 436h1v2h-1zM1259 110h1v1h-1zM1030 287h1v1h-1zM918 311h1v1h-1zM494 392h1v1h-1zM283 376h1v1h-1zM535 439h1v1h-1zM692 422h1v1h-1zM343 354h1v1h-1zM1022 297h1v1h-1zM1025 293h1v1h-1zM558 440h1v1h-1zM1110 135h1v1h-1zM513 410h1v1h-1zM668 433h1v1h-1zM95 391h1v1h-1zM505 402h1v1h-1zM862 428h1v1h-1zM195 370h1v1h-1z" fill="#ff0000"/>
<path d="M809 449h2v1h-2zM132 363h3v1h-3zM326 363h2v1h-2zM191 388h3v1h-3zM456 388h2v1h-2zM536 453h2v1h-2zM819 453h2v1h-2zM823 453h2v1h-2zM1242 106h2v1h-2zM1103 119h3v1h-3zM1168 119h2v1h-2zM541 451h2v1h-2zM815 451h2v1h-2zM826 451h2v1h-2zM427 364h2v1h-2zM37 417h3v1h-3zM43 417h2v1h-2zM48 414h2v1h-2zM1110 117h4v1h-4zM989 312h4v1h-4zM4 382h3v1h-3zM1248 108h11v1h-11zM1106 118h4v1h-4zM538 452h3v1h-3zM804 452h2v1h-2zM817 452h2v1h-2zM850 420h4v1h-4zM1101 120h2v1h-2zM1170 120h6v1h-6zM189 387h2v1h-2zM194 387h4v1h-4zM458 387h2v1h-2zM308 350h5v1h-5zM406 350h2v1h-2zM410 350h2v1h-2zM220 372h2v1h-2zM936 314h2v1h-2zM977 314h2v1h-2zM975 315h2v1h-2zM963 307h3v1h-3zM1091 127h3v1h-3zM472 375h2v1h-2zM1244 107h4v1h-4zM755 457h2v1h-2zM760 457h3v1h-3zM313 351h2v1h-2zM390 351h2v1h-2zM404 351h2v1h-2zM412 351h2v1h-2zM40 418h3v1h-3zM846 418h2v1h-2zM315 352h2v1h-2zM414 352h2v1h-2zM305 349h3v1h-3zM408 349h2v1h-2zM240 391h8v1h-8zM130 362h2v1h-2zM135 362h4v1h-4zM854 421h4v1h-4zM177 377h2v1h-2zM469 377h2v1h-2zM476 377h2v1h-2zM7 383h3v1h-3zM1218 115h2v1h-2zM1221 115h2v1h-2zM109 348h2v1h-2zM116 348h2v1h-2zM1240 105h2v1h-2zM1230 111h4v1h-4zM238 390h2v1h-2zM452 390h2v1h-2zM1016 287h2v1h-2zM215 370h3v1h-3zM271 370h13v1h-13zM1018 286h2v1h-2zM848 419h2v1h-2zM362 325h3v1h-3zM915 283h2v1h-2zM961 308h2v1h-2zM966 308h2v1h-2zM1039 249h2v1h-2zM153 344h2v1h-2zM664 380h2v1h-2zM187 386h2v1h-2zM198 386h3v1h-3zM446 386h2v1h-2zM50 413h2v1h-2zM62 403h8v1h-8zM533 454h3v1h-3zM821 454h2v1h-2zM368 328h2v1h-2zM979 313h10v1h-10zM212 371h3v1h-3zM218 371h2v1h-2zM1224 113h2v1h-2zM360 324h2v1h-2zM60 404h2v1h-2zM474 376h2v1h-2zM393 353h2v1h-2zM401 353h2v1h-2zM1193 87h2v1h-2zM688 450h2v1h-2zM807 450h2v1h-2zM811 450h4v1h-4zM1014 288h2v1h-2zM45 416h2v1h-2zM365 326h2v1h-2zM323 361h2v1h-2zM1089 128h2v1h-2zM1094 128h3v1h-3zM1043 246h2v1h-2zM944 321h5v1h-5zM329 365h2v1h-2zM450 389h2v1h-2zM454 389h2v1h-2zM52 412h2v1h-2zM526 456h2v1h-2zM529 456h2v1h-2zM753 456h2v1h-2zM763 456h2v1h-2zM757 458h3v1h-3zM639 490h2v1h-2zM71 401h2v1h-2zM1084 131h2v1h-2zM287 366h2v1h-2zM331 366h6v1h-6zM595 282h2v1h-2zM910 282h2v1h-2zM913 282h2v1h-2zM959 309h2v1h-2zM968 309h2v1h-2zM1226 112h4v1h-4zM395 354h6v1h-6zM267 369h4v1h-4zM531 455h2v1h-2zM751 455h2v1h-2zM1195 88h3v1h-3zM1020 285h2v1h-2zM1153 97h2v1h-2zM1087 129h2v1h-2zM519 448h1v1h-1zM633 469h1v6h-1zM672 398h1v4h-1zM33 411h1v2h-1zM1148 98h1v1h-1zM648 449h1v7h-1zM1033 260h1v2h-1zM661 388h1v4h-1zM1262 119h1v2h-1zM690 451h1v1h-1zM328 364h1v1h-1zM789 430h1v2h-1zM862 412h1v3h-1zM1049 239h1v2h-1zM878 358h1v3h-1zM834 436h1v2h-1zM493 408h1v2h-1zM566 389h1v5h-1zM895 302h1v2h-1zM464 382h1v1h-1zM579 331h1v4h-1zM629 443h1v7h-1zM1181 108h1v2h-1zM1114 118h1v1h-1zM796 445h1v2h-1zM497 415h1v2h-1zM656 407h1v5h-1zM625 415h1v8h-1zM739 442h1v1h-1zM338 362h1v2h-1zM1198 89h1v1h-1zM75 398h1v1h-1zM168 359h1v3h-1zM873 375h1v4h-1zM107 350h1v1h-1zM1208 101h1v2h-1zM1070 167h1v3h-1zM882 345h1v3h-1zM351 337h1v2h-1zM619 380h1v5h-1zM1190 90h1v1h-1zM1209 103h1v2h-1zM583 315h1v4h-1zM769 440h1v3h-1zM1212 108h1v1h-1zM1077 149h1v2h-1zM1097 126h1v2h-1zM18 393h1v1h-1zM642 485h1v2h-1zM1032 262h1v2h-1zM103 357h1v3h-1zM209 374h1v2h-1zM998 306h1v1h-1zM602 304h1v6h-1zM347 345h1v2h-1zM647 456h1v7h-1zM140 360h1v1h-1zM777 423h1v1h-1zM204 381h1v1h-1zM392 352h1v1h-1zM652 426h1v4h-1zM675 410h1v4h-1zM802 452h1v1h-1zM1065 185h1v4h-1zM833 438h1v2h-1zM887 329h1v3h-1zM1074 156h1v3h-1zM565 394h1v4h-1zM646 463h1v8h-1zM160 346h1v1h-1zM118 349h1v1h-1zM297 357h1v1h-1zM664 379h1v1h-1zM667 383h1v2h-1zM425 362h1v1h-1zM865 403h1v3h-1zM608 333h1v4h-1zM668 385h1v2h-1zM708 421h1v1h-1zM655 412h1v4h-1zM881 348h1v3h-1zM598 287h1v4h-1zM106 351h1v2h-1zM261 375h1v1h-1zM1068 174h1v4h-1zM521 450h1v2h-1zM440 377h1v2h-1zM568 380h1v5h-1zM10 384h1v1h-1zM350 339h1v2h-1zM671 395h1v3h-1zM522 452h1v1h-1zM1261 116h1v3h-1zM704 427h1v2h-1zM641 487h1v2h-1zM144 356h1v1h-1zM346 347h1v2h-1zM387 348h1v1h-1zM1238 105h1v1h-1zM1185 97h1v3h-1zM304 350h1v1h-1zM659 396h1v3h-1zM556 422h1v3h-1zM776 424h1v2h-1zM917 284h1v1h-1zM700 435h1v2h-1zM651 430h1v5h-1zM1027 272h1v3h-1zM604 315h1v5h-1zM495 411h1v2h-1zM1073 159h1v2h-1zM921 290h1v1h-1zM1116 120h1v2h-1zM248 390h1v1h-1zM631 456h1v6h-1zM563 402h1v4h-1zM951 317h1v2h-1zM586 304h1v4h-1zM167 357h1v2h-1zM905 287h1v1h-1zM680 432h1v4h-1zM840 423h1v2h-1zM431 367h1v1h-1zM222 373h1v1h-1zM645 471h1v7h-1zM1210 105h1v2h-1zM663 381h1v4h-1zM1081 139h1v4h-1zM1200 91h1v1h-1zM184 383h1v1h-1zM432 368h1v1h-1zM223 374h1v1h-1zM1036 253h1v2h-1zM973 314h1v2h-1zM864 406h1v3h-1zM1214 110h1v2h-1zM1060 202h1v4h-1zM654 416h1v5h-1zM174 373h1v2h-1zM528 457h1v1h-1zM783 418h1v1h-1zM634 475h1v5h-1zM371 330h1v1h-1zM784 419h1v1h-1zM581 323h1v4h-1zM372 331h1v2h-1zM611 345h1v4h-1zM637 485h1v3h-1zM484 391h1v2h-1zM703 429h1v2h-1zM837 429h1v2h-1zM487 397h1v2h-1zM614 357h1v4h-1zM1184 100h1v3h-1zM658 399h1v4h-1zM868 393h1v3h-1zM699 437h1v2h-1zM1072 161h1v3h-1zM884 339h1v3h-1zM909 283h1v1h-1zM1071 164h1v3h-1zM585 308h1v3h-1zM650 435h1v6h-1zM931 306h1v2h-1zM77 395h1v2h-1zM576 344h1v4h-1zM607 329h1v4h-1zM644 478h1v5h-1zM442 380h1v2h-1zM620 385h1v4h-1zM1035 255h1v2h-1zM523 453h1v1h-1zM88 382h1v1h-1zM1160 106h1v2h-1zM524 454h1v1h-1zM1161 108h1v2h-1zM480 383h1v2h-1zM367 327h1v1h-1zM1066 181h1v4h-1zM580 327h1v4h-1zM603 310h1v5h-1zM858 420h1v1h-1zM919 287h1v1h-1zM1117 122h1v1h-1zM355 329h1v2h-1zM923 293h1v1h-1zM57 407h1v1h-1zM1118 123h1v1h-1zM465 381h1v1h-1zM572 362h1v5h-1zM698 439h1v2h-1zM616 366h1v5h-1zM867 396h1v4h-1zM617 371h1v4h-1zM743 447h1v1h-1zM150 347h1v2h-1zM570 371h1v5h-1zM76 397h1v1h-1zM1137 113h1v2h-1zM92 378h1v1h-1zM515 444h1v1h-1zM561 409h1v3h-1zM599 291h1v4h-1zM550 437h1v3h-1zM600 295h1v4h-1zM622 394h1v6h-1zM285 368h1v1h-1zM636 482h1v3h-1zM1128 127h1v1h-1zM778 422h1v1h-1zM1235 109h1v1h-1zM588 297h1v4h-1zM1029 268h1v2h-1zM1010 292h1v2h-1zM56 408h1v2h-1zM735 438h1v1h-1zM929 302h1v2h-1zM606 324h1v5h-1zM1083 132h1v3h-1zM717 420h1v1h-1zM830 445h1v2h-1zM1005 298h1v1h-1zM842 420h1v1h-1zM626 423h1v7h-1zM149 349h1v1h-1zM1136 115h1v2h-1zM1177 116h1v2h-1zM1189 91h1v1h-1zM682 439h1v2h-1zM781 418h1v1h-1zM1159 104h1v2h-1zM478 379h1v2h-1zM549 440h1v2h-1zM208 376h1v1h-1zM997 307h1v1h-1zM1132 123h1v1h-1zM574 353h1v4h-1zM660 392h1v4h-1zM1268 131h1v2h-1zM1057 214h1v4h-1zM254 384h1v1h-1zM545 447h1v1h-1zM557 420h1v2h-1zM615 361h1v5h-1zM156 342h1v1h-1zM1028 270h1v2h-1zM1120 125h1v2h-1zM1009 294h1v1h-1zM578 335h1v4h-1zM296 358h1v1h-1zM678 423h1v4h-1zM773 431h1v2h-1zM1082 135h1v4h-1zM503 426h1v2h-1zM829 447h1v2h-1zM506 431h1v2h-1zM1004 299h1v2h-1zM841 421h1v2h-1zM436 373h1v1h-1zM227 379h1v1h-1zM507 433h1v1h-1zM1052 232h1v2h-1zM25 402h1v1h-1zM591 288h1v2h-1zM582 319h1v4h-1zM32 410h1v1h-1zM898 296h1v2h-1zM958 310h1v1h-1zM1264 123h1v2h-1zM376 336h1v1h-1zM36 415h1v2h-1zM102 360h1v2h-1zM303 351h1v1h-1zM120 351h1v1h-1zM163 349h1v2h-1zM121 352h1v1h-1zM98 368h1v2h-1zM950 319h1v1h-1zM605 320h1v4h-1zM737 440h1v1h-1zM499 419h1v2h-1zM719 422h1v1h-1zM772 433h1v2h-1zM618 375h1v5h-1zM180 379h1v1h-1zM170 364h1v2h-1zM1023 281h1v2h-1zM234 386h1v1h-1zM649 441h1v8h-1zM13 387h1v1h-1zM828 449h1v2h-1zM681 436h1v3h-1zM1051 234h1v3h-1zM560 412h1v2h-1zM601 299h1v5h-1zM590 290h1v4h-1zM897 298h1v2h-1zM836 431h1v2h-1zM1047 242h1v2h-1zM101 362h1v2h-1zM801 451h1v1h-1zM1122 128h1v1h-1zM1142 105h1v2h-1zM624 408h1v7h-1zM1055 222h1v4h-1zM97 370h1v2h-1zM225 376h1v1h-1zM505 430h1v1h-1zM1203 94h1v1h-1zM597 283h1v4h-1zM1180 110h1v2h-1zM226 377h1v2h-1zM176 376h1v1h-1zM509 436h1v2h-1zM695 445h1v2h-1zM1259 110h1v3h-1zM1034 257h1v3h-1zM93 377h1v1h-1zM34 413h1v1h-1zM1059 206h1v4h-1zM653 421h1v5h-1zM559 414h1v3h-1zM1263 121h1v2h-1zM359 325h1v1h-1zM1046 244h1v1h-1zM80 392h1v1h-1zM1141 107h1v2h-1zM679 427h1v5h-1zM883 342h1v3h-1zM693 448h1v1h-1zM740 443h1v2h-1zM584 311h1v4h-1zM182 381h1v1h-1zM971 312h1v1h-1zM183 382h1v1h-1zM706 423h1v2h-1zM15 389h1v1h-1zM575 348h1v5h-1zM972 313h1v1h-1zM259 377h1v1h-1zM145 355h1v1h-1zM471 376h1v1h-1zM290 364h1v1h-1zM19 394h1v2h-1zM782 417h1v1h-1zM1239 104h1v1h-1zM370 329h1v1h-1zM870 386h1v3h-1zM1133 121h1v2h-1zM486 395h1v2h-1zM766 449h1v3h-1zM623 400h1v8h-1zM1124 131h1v1h-1zM201 385h1v1h-1zM803 453h1v1h-1zM713 416h1v1h-1zM111 347h1v1h-1zM266 370h1v1h-1zM1223 114h1v1h-1zM1205 96h1v2h-1zM632 462h1v7h-1zM933 310h1v2h-1zM1062 196h1v3h-1zM441 379h1v1h-1zM705 425h1v2h-1zM403 352h1v1h-1zM258 378h1v2h-1zM869 389h1v4h-1zM253 385h1v1h-1zM544 448h1v2h-1zM765 452h1v3h-1zM886 332h1v4h-1zM496 413h1v2h-1zM342 355h1v1h-1zM125 357h1v1h-1zM1008 295h1v1h-1zM845 417h1v1h-1zM295 359h1v1h-1zM741 445h1v1h-1zM742 446h1v1h-1zM553 430h1v2h-1zM1211 107h1v1h-1zM1061 199h1v3h-1zM595 283h1v1h-1zM1024 279h1v2h-1zM17 392h1v1h-1zM185 384h1v1h-1zM628 436h1v7h-1zM1147 99h1v1h-1zM612 349h1v4h-1zM488 399h1v2h-1zM345 349h1v2h-1zM573 357h1v5h-1zM954 314h1v1h-1zM791 435h1v2h-1zM159 345h1v1h-1zM1056 218h1v4h-1zM894 304h1v4h-1zM885 336h1v3h-1zM949 320h1v1h-1zM341 356h1v2h-1zM715 418h1v1h-1zM748 452h1v1h-1zM1138 112h1v1h-1zM229 381h1v1h-1zM439 376h1v1h-1zM230 382h1v1h-1zM1080 143h1v2h-1zM513 441h1v1h-1zM1100 121h1v2h-1zM337 364h1v2h-1zM443 382h1v1h-1zM74 399h1v1h-1zM872 379h1v3h-1zM684 443h1v2h-1zM768 443h1v3h-1zM889 323h1v3h-1zM1031 264h1v2h-1zM85 385h1v2h-1zM630 450h1v6h-1zM797 447h1v1h-1zM677 418h1v5h-1zM920 288h1v2h-1zM127 359h1v1h-1zM832 440h1v3h-1zM722 425h1v1h-1zM1199 90h1v1h-1zM340 358h1v2h-1zM744 448h1v1h-1zM694 447h1v1h-1zM1213 109h1v1h-1zM610 341h1v4h-1zM1079 145h1v2h-1zM1099 123h1v2h-1zM105 353h1v2h-1zM707 422h1v1h-1zM317 353h1v1h-1zM23 400h1v1h-1zM786 422h1v2h-1zM468 378h1v1h-1zM374 334h1v1h-1zM888 326h1v3h-1zM546 446h1v1h-1zM375 335h1v1h-1zM640 489h1v1h-1zM1030 266h1v2h-1zM793 439h1v2h-1zM790 432h1v3h-1zM161 347h1v1h-1zM119 350h1v1h-1zM775 426h1v2h-1zM1125 130h1v1h-1zM202 383h1v2h-1zM571 367h1v4h-1zM831 443h1v2h-1zM875 368h1v4h-1zM866 400h1v3h-1zM750 454h1v1h-1zM232 384h1v1h-1zM1220 116h1v1h-1zM1002 302h1v1h-1zM289 365h1v1h-1zM1162 110h1v1h-1zM683 441h1v2h-1zM1186 95h1v2h-1zM479 381h1v2h-1zM1163 111h1v2h-1zM205 379h1v2h-1zM702 431h1v2h-1zM301 353h1v1h-1zM587 301h1v3h-1zM922 291h1v2h-1zM799 449h1v1h-1zM114 346h1v1h-1zM676 414h1v4h-1zM712 417h1v1h-1zM1121 127h1v1h-1zM265 371h1v1h-1zM724 427h1v1h-1zM940 317h1v1h-1zM1201 92h1v1h-1zM902 290h1v1h-1zM1215 112h1v1h-1zM262 374h1v1h-1zM21 397h1v1h-1zM891 315h1v4h-1zM609 337h1v4h-1zM785 420h1v2h-1zM1048 241h1v1h-1zM377 337h1v2h-1zM701 433h1v2h-1zM354 331h1v2h-1zM935 313h1v1h-1zM731 434h1v1h-1zM577 339h1v5h-1zM122 353h1v2h-1zM697 441h1v2h-1zM594 284h1v1h-1zM181 380h1v1h-1zM569 376h1v4h-1zM890 319h1v4h-1zM970 310h1v2h-1zM477 378h1v1h-1zM1165 114h1v2h-1zM1146 100h1v1h-1zM860 417h1v1h-1zM674 406h1v4h-1zM638 488h1v2h-1zM877 361h1v4h-1zM1119 124h1v1h-1zM81 391h1v1h-1zM1123 129h1v2h-1zM462 384h1v1h-1zM416 353h1v1h-1zM353 333h1v2h-1zM942 319h1v1h-1zM417 354h1v1h-1zM1217 114h1v1h-1zM510 438h1v1h-1zM73 400h1v1h-1zM1176 118h1v2h-1zM621 389h1v5h-1zM589 294h1v3h-1zM378 339h1v1h-1zM780 419h1v1h-1zM1076 151h1v2h-1zM207 377h1v1h-1zM379 340h1v1h-1zM996 308h1v1h-1zM859 418h1v2h-1zM112 346h1v1h-1zM123 355h1v1h-1zM718 421h1v1h-1zM124 356h1v1h-1zM498 417h1v2h-1zM1054 226h1v3h-1zM169 362h1v2h-1zM352 335h1v2h-1zM1179 112h1v2h-1zM1098 125h1v1h-1zM104 355h1v2h-1zM1003 301h1v1h-1zM880 351h1v4h-1zM871 382h1v4h-1zM286 367h1v1h-1zM1067 178h1v3h-1zM1187 93h1v2h-1zM567 385h1v4h-1zM613 353h1v4h-1zM558 417h1v3h-1zM639 491h1v1h-1zM994 310h1v1h-1zM673 402h1v4h-1zM1075 153h1v3h-1zM1236 107h1v2h-1zM251 387h1v1h-1zM157 343h1v1h-1zM490 403h1v1h-1zM302 352h1v1h-1zM746 450h1v1h-1zM1006 297h1v1h-1zM1053 229h1v3h-1zM1026 275h1v2h-1zM843 419h1v1h-1zM747 451h1v1h-1zM430 366h1v1h-1zM437 374h1v1h-1zM228 380h1v1h-1zM508 434h1v2h-1zM419 356h1v1h-1zM903 289h1v1h-1zM511 439h1v1h-1zM1001 303h1v1h-1zM669 387h1v4h-1zM512 440h1v1h-1zM839 425h1v2h-1zM1265 125h1v2h-1zM955 313h1v1h-1zM835 433h1v3h-1zM381 342h1v1h-1zM300 354h1v1h-1zM952 316h1v1h-1zM720 423h1v1h-1zM657 403h1v4h-1zM126 358h1v1h-1zM721 424h1v1h-1zM171 366h1v3h-1zM426 363h1v1h-1zM1037 251h1v2h-1zM874 372h1v3h-1zM47 415h1v1h-1zM974 316h1v1h-1zM86 384h1v1h-1zM788 427h1v3h-1zM22 398h1v2h-1zM373 333h1v1h-1zM861 415h1v2h-1zM489 401h1v2h-1zM492 406h1v2h-1zM358 326h1v1h-1zM792 437h1v2h-1zM795 443h1v2h-1zM727 430h1v1h-1zM1207 100h1v1h-1zM932 308h1v2h-1zM749 453h1v1h-1zM552 432h1v3h-1zM1069 170h1v4h-1zM514 442h1v2h-1zM231 383h1v1h-1zM692 449h1v1h-1zM70 402h1v1h-1zM90 380h1v1h-1zM685 445h1v2h-1zM481 385h1v2h-1zM1126 129h1v1h-1zM155 343h1v1h-1zM1064 189h1v3h-1zM564 398h1v4h-1zM893 308h1v4h-1zM461 385h1v1h-1zM924 294h1v2h-1zM938 315h1v1h-1zM236 388h1v1h-1zM939 316h1v1h-1zM237 389h1v1h-1zM551 435h1v2h-1zM449 388h1v1h-1zM627 430h1v6h-1zM670 391h1v4h-1zM20 396h1v1h-1zM211 372h1v1h-1zM318 354h1v2h-1zM142 358h1v1h-1zM349 341h1v2h-1zM767 446h1v3h-1zM787 424h1v3h-1zM779 420h1v2h-1zM206 378h1v1h-1zM1130 125h1v1h-1zM995 309h1v1h-1zM794 441h1v2h-1zM543 450h1v1h-1zM252 386h1v1h-1zM714 417h1v1h-1zM165 353h1v2h-1zM1063 192h1v4h-1zM710 419h1v1h-1zM729 432h1v1h-1zM263 373h1v1h-1zM934 312h1v1h-1zM294 360h1v1h-1zM172 369h1v2h-1zM445 385h1v1h-1zM1191 89h1v1h-1zM516 445h1v1h-1zM146 353h1v2h-1zM863 409h1v3h-1zM686 447h1v2h-1zM1164 113h1v1h-1zM255 382h1v2h-1zM483 389h1v2h-1zM1013 289h1v1h-1zM1167 118h1v1h-1zM1058 210h1v4h-1zM100 364h1v2h-1zM250 388h1v1h-1zM1183 103h1v2h-1zM926 297h1v2h-1zM1041 248h1v1h-1zM774 428h1v3h-1zM941 318h1v1h-1zM1155 98h1v1h-1zM562 406h1v3h-1zM186 385h1v1h-1zM592 286h1v2h-1zM1156 99h1v1h-1zM838 427h1v2h-1zM1216 113h1v1h-1zM319 356h1v1h-1zM320 357h1v1h-1zM1144 102h1v2h-1zM764 455h1v1h-1zM84 387h1v1h-1zM463 383h1v1h-1zM99 366h1v2h-1zM1182 105h1v3h-1zM79 393h1v1h-1zM716 419h1v1h-1zM1140 109h1v1h-1zM164 351h1v2h-1zM421 358h1v1h-1zM500 421h1v2h-1zM422 359h1v1h-1zM1151 95h1v1h-1zM1078 147h1v2h-1zM643 483h1v2h-1zM635 480h1v2h-1zM383 344h1v1h-1zM384 345h1v1h-1zM59 405h1v1h-1zM467 379h1v1h-1zM357 327h1v1h-1zM1143 104h1v1h-1zM54 411h1v1h-1zM128 360h1v1h-1zM723 426h1v1h-1zM129 361h1v1h-1zM1139 110h1v2h-1zM738 441h1v1h-1zM745 449h1v1h-1zM696 443h1v2h-1zM429 365h1v1h-1zM1260 113h1v3h-1zM691 450h1v1h-1zM148 350h1v2h-1zM1135 117h1v2h-1zM24 401h1v1h-1zM89 381h1v1h-1zM322 360h1v1h-1zM143 357h1v1h-1zM548 442h1v2h-1zM1267 129h1v2h-1zM284 369h1v1h-1zM1237 106h1v1h-1zM162 348h1v1h-1zM876 365h1v3h-1zM1007 296h1v1h-1zM844 418h1v1h-1zM108 349h1v1h-1zM423 360h1v1h-1zM711 418h1v1h-1zM151 346h1v1h-1zM233 385h1v1h-1zM264 372h1v1h-1zM424 361h1v1h-1zM901 291h1v1h-1zM210 373h1v1h-1zM1134 119h1v2h-1zM348 343h1v2h-1zM547 444h1v2h-1zM385 346h1v1h-1zM256 381h1v1h-1zM1129 126h1v1h-1zM386 347h1v1h-1zM491 404h1v2h-1zM494 410h1v1h-1zM555 425h1v2h-1zM908 284h1v1h-1zM725 428h1v1h-1zM1202 93h1v1h-1zM1038 250h1v1h-1zM726 429h1v1h-1zM892 312h1v3h-1zM293 361h1v1h-1zM1206 98h1v2h-1zM1258 109h1v1h-1zM771 435h1v3h-1zM1022 283h1v2h-1zM662 385h1v3h-1zM16 390h1v2h-1zM900 292h1v2h-1zM26 403h1v1h-1zM1050 237h1v2h-1zM27 404h1v2h-1zM879 355h1v3h-1zM896 300h1v2h-1zM1145 101h1v1h-1zM343 353h1v2h-1zM554 427h1v3h-1zM96 372h1v2h-1zM596 281h1v1h-1zM1025 277h1v2h-1zM518 447h1v1h-1zM235 387h1v1h-1zM91 379h1v1h-1zM770 438h1v2h-1zM448 387h1v1h-1zM899 294h1v2h-1zM83 388h1v1h-1zM918 285h1v2h-1zM78 394h1v1h-1zM55 410h1v1h-1zM943 320h1v1h-1zM418 355h1v1h-1zM1204 95h1v1h-1zM728 431h1v1h-1zM95 374h1v2h-1zM1178 114h1v2h-1zM28 406h1v1h-1zM444 383h1v2h-1zM29 407h1v1h-1zM1131 124h1v1h-1zM380 341h1v1h-1zM485 393h1v2h-1zM482 387h1v2h-1zM1166 116h1v2h-1zM466 380h1v1h-1zM993 311h1v1h-1zM1086 130h1v1h-1zM82 389h1v2h-1zM734 437h1v1h-1zM1192 88h1v1h-1zM520 449h1v1h-1zM292 362h1v1h-1zM147 352h1v1h-1zM825 452h1v1h-1zM1000 304h1v1h-1zM1158 102h1v2h-1zM1011 291h1v1h-1zM1115 119h1v1h-1zM139 361h1v1h-1zM203 382h1v1h-1zM798 448h1v1h-1zM113 345h1v1h-1zM299 355h1v1h-1zM166 355h1v2h-1zM420 357h1v1h-1zM593 285h1v1h-1zM435 371h1v2h-1zM173 371h1v2h-1zM260 376h1v1h-1zM30 408h1v1h-1zM687 449h1v1h-1zM325 362h1v1h-1zM31 409h1v1h-1zM382 343h1v1h-1zM344 351h1v2h-1zM907 285h1v1h-1zM927 299h1v2h-1zM930 304h1v2h-1zM736 439h1v1h-1zM179 378h1v1h-1zM904 288h1v1h-1zM11 385h1v1h-1zM12 386h1v1h-1zM1157 100h1v2h-1zM1149 97h1v1h-1zM388 349h1v1h-1zM321 358h1v2h-1zM956 312h1v1h-1zM389 350h1v1h-1zM1266 127h1v2h-1zM1045 245h1v1h-1zM800 450h1v1h-1zM115 347h1v1h-1zM501 423h1v2h-1zM433 369h1v1h-1zM224 375h1v1h-1zM504 428h1v2h-1zM434 370h1v1h-1zM339 360h1v2h-1zM175 375h1v1h-1zM87 383h1v1h-1zM141 359h1v1h-1zM925 296h1v1h-1zM928 301h1v1h-1zM152 345h1v1h-1zM94 376h1v1h-1zM709 420h1v1h-1zM525 455h1v1h-1zM14 388h1v1h-1zM257 380h1v1h-1zM806 451h1v1h-1zM1127 128h1v1h-1zM1012 290h1v1h-1zM1234 110h1v1h-1zM249 389h1v1h-1zM730 433h1v1h-1zM502 425h1v1h-1zM906 286h1v1h-1zM291 363h1v1h-1zM517 446h1v1h-1zM1188 92h1v1h-1zM999 305h1v1h-1zM35 414h1v1h-1zM953 315h1v1h-1zM298 356h1v1h-1zM1150 96h1v1h-1zM957 311h1v1h-1zM912 281h1v1h-1zM158 344h1v1h-1zM58 406h1v1h-1zM460 386h1v1h-1zM1042 247h1v1h-1zM356 328h1v1h-1zM732 435h1v1h-1zM733 436h1v1h-1zM665 381h1v1h-1zM438 375h1v1h-1zM666 382h1v1h-1zM1152 96h1v1h-1z" fill="#ffa500"/>
<path d="M196 579h5v1h-5zM378 579h2v1h-2zM393 579h2v1h-2zM397 579h2v1h-2zM600 579h9v1h-9zM706 579h3v1h-3zM1214 579h2v1h-2zM1218 579h3v1h-3zM50 582h2v1h-2zM245 582h2v1h-2zM382 582h2v1h-2zM385 582h2v1h-2zM670 582h2v1h-2zM691 582h2v1h-2zM734 582h3v1h-3zM756 582h5v1h-5zM801 582h2v1h-2zM819 582h6v1h-6zM100 561h5v1h-5zM355 561h2v1h-2zM875 561h2v1h-2zM1031 561h3v1h-3zM1038 561h4v1h-4zM1137 561h2v1h-2zM268 578h5v1h-5zM330 578h3v1h-3zM395 578h2v1h-2zM696 578h2v1h-2zM702 578h4v1h-4zM1247 578h2v1h-2zM114 568h2v1h-2zM297 568h2v1h-2zM923 568h3v1h-3zM997 568h2v1h-2zM1116 568h2v1h-2zM135 570h3v1h-3zM261 570h2v1h-2zM370 570h2v1h-2zM775 570h2v1h-2zM856 570h2v1h-2zM919 570h2v1h-2zM56 580h5v1h-5zM162 580h3v1h-3zM318 580h2v1h-2zM390 580h3v1h-3zM399 580h2v1h-2zM724 580h2v1h-2zM763 580h2v1h-2zM796 580h2v1h-2zM810 580h2v1h-2zM1216 580h2v1h-2zM10 587h2v1h-2zM13 587h2v1h-2zM42 587h2v1h-2zM170 587h2v1h-2zM230 587h4v1h-4zM237 587h2v1h-2zM544 587h5v1h-5zM639 587h2v1h-2zM892 556h6v1h-6zM74 573h2v1h-2zM87 573h2v1h-2zM130 573h2v1h-2zM283 573h2v1h-2zM311 573h2v1h-2zM650 573h3v1h-3zM932 573h5v1h-5zM977 573h2v1h-2zM981 573h2v1h-2zM1161 573h2v1h-2zM1170 573h3v1h-3zM580 552h5v1h-5zM123 575h6v1h-6zM204 575h5v1h-5zM938 575h2v1h-2zM966 575h4v1h-4zM1156 575h3v1h-3zM1196 575h2v1h-2zM1206 575h2v1h-2zM1238 575h2v1h-2zM1252 575h2v1h-2zM54 581h2v1h-2zM160 581h2v1h-2zM387 581h3v1h-3zM689 581h2v1h-2zM722 581h2v1h-2zM726 581h8v1h-8zM761 581h2v1h-2zM794 581h2v1h-2zM798 581h3v1h-3zM502 601h2v1h-2zM439 590h2v1h-2zM477 590h2v1h-2zM533 590h2v1h-2zM538 590h3v1h-3zM1266 590h3v1h-3zM879 559h2v1h-2zM138 569h3v1h-3zM263 569h2v1h-2zM552 569h5v1h-5zM773 569h2v1h-2zM834 569h2v1h-2zM917 569h2v1h-2zM921 569h2v1h-2zM926 569h3v1h-3zM999 569h2v1h-2zM1010 569h2v1h-2zM447 594h6v1h-6zM487 594h2v1h-2zM145 564h2v1h-2zM149 564h2v1h-2zM343 564h2v1h-2zM1126 564h4v1h-4zM1191 564h2v1h-2zM209 576h2v1h-2zM214 576h3v1h-3zM334 576h2v1h-2zM406 576h2v1h-2zM462 576h3v1h-3zM611 576h2v1h-2zM660 576h5v1h-5zM846 576h7v1h-7zM940 576h5v1h-5zM960 576h6v1h-6zM1198 576h4v1h-4zM1210 576h2v1h-2zM1228 576h5v1h-5zM1240 576h5v1h-5zM1250 576h2v1h-2zM1254 576h3v1h-3zM20 591h2v1h-2zM26 591h7v1h-7zM434 591h2v1h-2zM437 591h2v1h-2zM441 591h2v1h-2zM479 591h3v1h-3zM211 577h3v1h-3zM324 577h6v1h-6zM460 577h2v1h-2zM698 577h4v1h-4zM844 577h2v1h-2zM1202 577h3v1h-3zM1245 577h2v1h-2zM82 574h2v1h-2zM85 574h2v1h-2zM121 574h2v1h-2zM648 574h2v1h-2zM970 574h7v1h-7zM983 574h10v1h-10zM1159 574h2v1h-2zM1234 574h2v1h-2zM98 562h2v1h-2zM347 562h2v1h-2zM867 562h3v1h-3zM873 562h2v1h-2zM1024 562h2v1h-2zM1029 562h2v1h-2zM1134 562h3v1h-3zM133 571h2v1h-2zM255 571h6v1h-6zM654 571h2v1h-2zM858 571h3v1h-3zM1175 571h2v1h-2zM15 586h2v1h-2zM227 586h3v1h-3zM239 586h2v1h-2zM676 586h2v1h-2zM746 586h7v1h-7zM222 584h3v1h-3zM412 584h6v1h-6zM739 584h3v1h-3zM787 584h3v1h-3zM521 605h2v1h-2zM220 583h2v1h-2zM247 583h2v1h-2zM422 583h2v1h-2zM470 583h2v1h-2zM737 583h2v1h-2zM785 583h2v1h-2zM790 583h3v1h-3zM803 583h2v1h-2zM814 583h2v1h-2zM817 583h2v1h-2zM586 550h3v1h-3zM1054 550h4v1h-4zM76 572h5v1h-5zM253 572h2v1h-2zM278 572h2v1h-2zM281 572h2v1h-2zM309 572h2v1h-2zM364 572h5v1h-5zM830 572h2v1h-2zM979 572h2v1h-2zM1163 572h7v1h-7zM1173 572h2v1h-2zM106 563h2v1h-2zM147 563h2v1h-2zM345 563h2v1h-2zM865 563h2v1h-2zM870 563h3v1h-3zM1022 563h2v1h-2zM1026 563h3v1h-3zM1130 563h4v1h-4zM1189 563h2v1h-2zM4 585h5v1h-5zM225 585h2v1h-2zM418 585h3v1h-3zM642 585h2v1h-2zM674 585h2v1h-2zM678 585h7v1h-7zM742 585h4v1h-4zM497 598h2v1h-2zM22 592h4v1h-4zM443 592h2v1h-2zM482 592h3v1h-3zM898 557h3v1h-3zM1094 557h3v1h-3zM499 599h2v1h-2zM109 565h2v1h-2zM151 565h2v1h-2zM302 565h2v1h-2zM341 565h2v1h-2zM1108 565h5v1h-5zM1123 565h3v1h-3zM34 593h2v1h-2zM445 593h2v1h-2zM485 593h2v1h-2zM565 555h2v1h-2zM890 555h2v1h-2zM902 555h2v1h-2zM155 567h2v1h-2zM299 567h2v1h-2zM1002 567h2v1h-2zM1114 567h2v1h-2zM1118 567h3v1h-3zM1183 567h2v1h-2zM1052 551h2v1h-2zM514 604h7v1h-7zM526 604h2v1h-2zM887 553h2v1h-2zM910 553h3v1h-3zM574 558h2v1h-2zM1092 558h2v1h-2zM1142 558h2v1h-2zM350 560h2v1h-2zM353 560h2v1h-2zM877 560h2v1h-2zM1034 560h4v1h-4zM1042 560h3v1h-3zM1139 560h2v1h-2zM567 554h2v1h-2zM885 554h2v1h-2zM904 554h6v1h-6zM172 588h5v1h-5zM184 588h6v1h-6zM234 588h3v1h-3zM430 588h2v1h-2zM542 588h2v1h-2zM637 588h2v1h-2zM1262 588h2v1h-2zM489 595h2v1h-2zM624 595h6v1h-6zM1075 547h7v1h-7zM506 603h8v1h-8zM111 566h2v1h-2zM153 566h2v1h-2zM290 566h2v1h-2zM1121 566h2v1h-2zM1181 566h2v1h-2zM190 589h3v1h-3zM535 589h3v1h-3zM1264 589h2v1h-2zM1058 549h7v1h-7zM491 596h3v1h-3zM630 596h3v1h-3zM504 602h2v1h-2zM1073 548h2v1h-2zM494 597h3v1h-3zM1082 546h3v1h-3zM523 606h2v1h-2zM914 559h1v4h-1zM317 579h1v1h-1zM599 574h1v4h-1zM808 578h1v1h-1zM401 578h1v2h-1zM1249 577h1v1h-1zM1177 569h1v2h-1zM945 574h1v2h-1zM884 555h1v1h-1zM1260 585h1v2h-1zM276 574h1v1h-1zM549 581h1v4h-1zM778 573h1v2h-1zM405 575h1v1h-1zM530 596h1v3h-1zM248 582h1v1h-1zM1105 558h1v2h-1zM333 577h1v1h-1zM994 570h1v2h-1zM280 571h1v1h-1zM71 576h1v2h-1zM1097 555h1v2h-1zM1108 564h1v1h-1zM40 589h1v1h-1zM295 568h1v1h-1zM1101 552h1v1h-1zM1008 571h1v1h-1zM754 584h1v1h-1zM66 583h1v1h-1zM340 566h1v2h-1zM169 586h1v1h-1zM1146 559h1v1h-1zM766 576h1v2h-1zM1001 568h1v1h-1zM1195 571h1v3h-1zM287 569h1v1h-1zM1154 571h1v2h-1zM915 563h1v4h-1zM569 555h1v2h-1zM592 557h1v2h-1zM656 570h1v1h-1zM1021 564h1v1h-1zM667 579h1v1h-1zM1013 569h1v1h-1zM374 572h1v2h-1zM458 581h1v2h-1zM375 574h1v2h-1zM1225 573h1v1h-1zM777 571h1v2h-1zM294 567h1v1h-1zM765 578h1v2h-1zM1259 583h1v2h-1zM219 581h1v2h-1zM557 568h1v1h-1zM1017 570h1v2h-1zM306 567h1v2h-1zM1237 574h1v1h-1zM833 570h1v1h-1zM476 589h1v1h-1zM781 578h1v1h-1zM1104 556h1v2h-1zM861 569h1v2h-1zM959 575h1v1h-1zM716 579h1v1h-1zM47 581h1v2h-1zM548 585h1v2h-1zM842 574h1v2h-1zM853 574h1v2h-1zM17 587h1v1h-1zM666 578h1v1h-1zM457 583h1v2h-1zM529 599h1v3h-1zM1012 568h1v1h-1zM268 577h1v1h-1zM321 580h1v1h-1zM929 570h1v1h-1zM993 572h1v2h-1zM179 585h1v1h-1zM595 562h1v2h-1zM659 574h1v2h-1zM377 578h1v1h-1zM160 580h1v1h-1zM769 572h1v1h-1zM252 573h1v2h-1zM598 570h1v4h-1zM339 568h1v2h-1zM453 591h1v2h-1zM1085 547h1v2h-1zM948 570h1v1h-1zM183 587h1v1h-1zM780 577h1v1h-1zM528 602h1v2h-1zM1107 562h1v2h-1zM1086 549h1v1h-1zM532 591h1v2h-1zM1180 565h1v1h-1zM1089 553h1v2h-1zM1236 573h1v1h-1zM1047 557h1v1h-1zM1205 576h1v1h-1zM218 579h1v2h-1zM93 567h1v1h-1zM157 569h1v4h-1zM243 582h1v1h-1zM609 578h1v1h-1zM12 588h1v1h-1zM286 570h1v2h-1zM433 590h1v1h-1zM267 575h1v2h-1zM1156 576h1v1h-1zM841 573h1v1h-1zM202 577h1v1h-1zM1187 563h1v1h-1zM264 570h1v1h-1zM38 591h1v2h-1zM772 568h1v1h-1zM591 555h1v2h-1zM635 590h1v2h-1zM594 561h1v1h-1zM564 556h1v2h-1zM658 573h1v1h-1zM373 570h1v2h-1zM1066 547h1v1h-1zM1141 559h1v1h-1zM951 566h1v1h-1zM1099 552h1v2h-1zM617 585h1v2h-1zM96 564h1v1h-1zM1019 566h1v2h-1zM883 556h1v1h-1zM913 555h1v4h-1zM1258 580h1v3h-1zM275 575h1v1h-1zM1050 553h1v2h-1zM779 575h1v2h-1zM634 592h1v2h-1zM68 581h1v1h-1zM142 567h1v1h-1zM560 564h1v1h-1zM673 584h1v1h-1zM289 567h1v1h-1zM958 573h1v2h-1zM783 581h1v1h-1zM647 576h1v2h-1zM156 568h1v1h-1zM597 566h1v4h-1zM19 590h1v1h-1zM305 565h1v2h-1zM840 572h1v1h-1zM1103 555h1v1h-1zM753 585h1v1h-1zM1072 549h1v1h-1zM1155 573h1v2h-1zM452 593h1v1h-1zM947 571h1v2h-1zM551 572h1v4h-1zM590 553h1v2h-1zM571 558h1v2h-1zM49 581h1v1h-1zM403 575h1v2h-1zM646 578h1v3h-1zM1149 562h1v2h-1zM376 576h1v2h-1zM1087 550h1v2h-1zM805 582h1v1h-1zM456 585h1v2h-1zM357 562h1v1h-1zM616 583h1v2h-1zM1088 552h1v1h-1zM828 574h1v2h-1zM1194 569h1v2h-1zM429 587h1v1h-1zM672 583h1v1h-1zM323 578h1v1h-1zM1091 556h1v2h-1zM809 579h1v1h-1zM641 586h1v1h-1zM358 563h1v1h-1zM308 571h1v1h-1zM37 593h1v1h-1zM65 584h1v1h-1zM266 573h1v2h-1zM1106 560h1v2h-1zM217 577h1v2h-1zM563 558h1v2h-1zM411 582h1v2h-1zM593 559h1v2h-1zM194 583h1v3h-1zM596 564h1v2h-1zM18 588h1v2h-1zM531 593h1v3h-1zM950 567h1v2h-1zM1212 577h1v1h-1zM251 575h1v2h-1zM657 571h1v2h-1zM1018 568h1v2h-1zM338 570h1v2h-1zM84 575h1v1h-1zM159 576h1v4h-1zM1152 567h1v2h-1zM1049 555h1v1h-1zM1196 574h1v1h-1zM669 581h1v1h-1zM570 557h1v1h-1zM862 567h1v2h-1zM996 567h1v1h-1zM372 569h1v1h-1zM579 553h1v1h-1zM1148 561h1v1h-1zM619 588h1v2h-1zM1261 587h1v1h-1zM585 551h1v1h-1zM832 571h1v1h-1zM250 577h1v3h-1zM615 581h1v2h-1zM1193 566h1v3h-1zM782 579h1v2h-1zM1226 574h1v1h-1zM881 558h1v1h-1zM836 568h1v1h-1zM304 564h1v1h-1zM44 586h1v1h-1zM912 554h1v1h-1zM178 586h1v1h-1zM1227 575h1v1h-1zM296 569h1v1h-1zM307 569h1v2h-1zM1102 553h1v2h-1zM53 582h1v1h-1zM265 571h1v2h-1zM937 574h1v1h-1zM717 580h1v1h-1zM410 580h1v2h-1zM402 577h1v1h-1zM843 576h1v1h-1zM686 582h1v2h-1zM277 573h1v1h-1zM1147 560h1v1h-1zM550 576h1v5h-1zM695 579h1v1h-1zM718 581h1v1h-1zM710 577h1v1h-1zM930 571h1v1h-1zM144 565h1v1h-1zM633 594h1v2h-1zM668 580h1v1h-1zM1014 570h1v1h-1zM1223 573h1v2h-1zM1151 565h1v2h-1zM931 572h1v1h-1zM314 575h1v2h-1zM589 551h1v2h-1zM721 582h1v1h-1zM1015 571h1v1h-1zM95 565h1v1h-1zM242 583h1v2h-1zM315 577h1v1h-1zM1113 566h1v1h-1zM653 572h1v1h-1zM285 572h1v1h-1zM1208 574h1v1h-1zM196 580h1v1h-1zM90 570h1v2h-1zM1222 575h1v2h-1zM361 566h1v2h-1zM645 581h1v2h-1zM771 569h1v1h-1zM1068 545h1v1h-1zM1257 578h1v2h-1zM827 576h1v2h-1zM995 568h1v2h-1zM349 561h1v1h-1zM466 578h1v2h-1zM455 587h1v2h-1zM132 572h1v1h-1zM424 582h1v1h-1zM562 560h1v2h-1zM425 583h1v1h-1zM193 586h1v2h-1zM158 573h1v3h-1zM693 581h1v1h-1zM116 569h1v1h-1zM618 587h1v1h-1zM1090 555h1v1h-1zM755 583h1v1h-1zM117 570h1v1h-1zM953 566h1v2h-1zM337 572h1v2h-1zM288 568h1v1h-1zM360 565h1v1h-1zM1233 575h1v1h-1zM249 580h1v2h-1zM1153 569h1v2h-1zM409 578h1v2h-1zM1006 568h1v2h-1zM166 582h1v2h-1zM1150 564h1v1h-1zM807 579h1v1h-1zM816 584h1v1h-1zM1009 570h1v1h-1zM67 582h1v1h-1zM70 578h1v1h-1zM181 585h1v1h-1zM113 567h1v1h-1zM36 594h1v1h-1zM644 583h1v2h-1zM770 570h1v2h-1zM363 570h1v2h-1zM614 579h1v2h-1zM9 586h1v1h-1zM826 578h1v2h-1zM784 582h1v1h-1zM712 575h1v1h-1zM1192 565h1v1h-1zM359 564h1v1h-1zM108 564h1v1h-1zM1256 577h1v1h-1zM525 605h1v1h-1zM713 576h1v1h-1zM473 585h1v1h-1zM97 563h1v1h-1zM1020 565h1v1h-1zM1179 566h1v2h-1zM465 577h1v1h-1zM561 562h1v2h-1zM719 582h1v1h-1zM572 560h1v1h-1zM165 581h1v1h-1zM195 581h1v2h-1zM1221 577h1v2h-1zM313 574h1v1h-1zM73 574h1v1h-1zM720 583h1v1h-1zM576 557h1v1h-1zM62 582h1v2h-1zM241 585h1v1h-1zM39 590h1v1h-1zM1016 572h1v1h-1zM336 574h1v2h-1zM636 589h1v1h-1zM180 584h1v1h-1zM588 549h1v1h-1zM620 590h1v1h-1zM203 576h1v1h-1zM362 568h1v2h-1zM613 577h1v2h-1zM89 572h1v1h-1zM621 591h1v1h-1zM320 581h1v1h-1zM952 565h1v1h-1zM1004 566h1v1h-1zM81 573h1v1h-1zM143 566h1v1h-1zM1213 578h1v1h-1zM408 577h1v1h-1zM1005 567h1v1h-1zM1070 547h1v1h-1zM1051 552h1v1h-1zM864 564h1v1h-1zM244 581h1v1h-1zM192 588h1v1h-1zM1046 558h1v1h-1zM61 581h1v1h-1zM552 570h1v2h-1zM541 589h1v1h-1zM1186 564h1v2h-1zM427 585h1v1h-1zM837 569h1v1h-1zM472 584h1v1h-1zM369 571h1v1h-1zM118 571h1v1h-1zM955 569h1v2h-1zM768 573h1v1h-1zM404 574h1v1h-1zM685 584h1v1h-1zM381 581h1v1h-1zM119 572h1v1h-1zM384 583h1v1h-1zM69 579h1v2h-1zM460 578h1v1h-1zM825 580h1v2h-1zM274 576h1v1h-1zM168 585h1v1h-1zM559 565h1v1h-1zM316 578h1v1h-1zM46 583h1v1h-1zM468 581h1v1h-1zM855 571h1v2h-1zM426 584h1v1h-1zM92 568h1v1h-1zM1209 575h1v1h-1zM623 594h1v1h-1zM688 580h1v1h-1zM293 566h1v1h-1zM201 578h1v1h-1zM1069 546h1v1h-1zM806 580h1v2h-1zM954 568h1v1h-1zM578 554h1v2h-1zM1100 551h1v1h-1zM829 573h1v1h-1zM475 588h1v1h-1zM882 557h1v1h-1zM1065 548h1v1h-1zM715 578h1v1h-1zM916 567h1v2h-1zM1098 554h1v1h-1zM665 577h1v1h-1zM141 568h1v1h-1zM1145 558h1v1h-1zM467 580h1v1h-1zM301 566h1v1h-1zM436 592h1v1h-1zM711 576h1v1h-1zM767 574h1v2h-1zM64 585h1v1h-1zM622 592h1v2h-1zM474 586h1v2h-1zM380 580h1v1h-1zM182 586h1v1h-1zM946 573h1v1h-1zM863 565h1v2h-1zM949 569h1v1h-1zM612 575h1v1h-1zM459 579h1v2h-1zM1224 572h1v1h-1zM41 588h1v1h-1zM501 600h1v1h-1zM1007 570h1v1h-1zM72 575h1v1h-1zM167 584h1v1h-1zM1144 557h1v1h-1zM558 566h1v2h-1zM45 584h1v2h-1zM600 578h1v1h-1zM322 579h1v1h-1zM793 582h1v1h-1zM63 584h1v1h-1zM292 565h1v1h-1zM177 587h1v1h-1zM52 583h1v1h-1zM901 556h1v1h-1zM421 584h1v1h-1zM454 589h1v2h-1zM714 577h1v1h-1zM694 580h1v1h-1zM432 589h1v1h-1zM1178 568h1v1h-1zM957 572h1v1h-1zM812 581h1v1h-1zM813 582h1v1h-1zM94 566h1v1h-1zM1045 559h1v1h-1zM610 577h1v1h-1zM33 592h1v1h-1zM1185 566h1v1h-1zM1188 562h1v1h-1zM854 573h1v1h-1zM129 574h1v1h-1zM687 581h1v1h-1zM573 559h1v1h-1zM709 578h1v1h-1zM428 586h1v1h-1zM838 570h1v1h-1zM889 554h1v1h-1zM577 556h1v1h-1zM956 571h1v1h-1zM1048 556h1v1h-1zM839 571h1v1h-1zM1071 548h1v1h-1zM120 573h1v1h-1zM273 577h1v1h-1zM352 559h1v1h-1zM48 580h1v1h-1zM91 569h1v1h-1zM648 575h1v1h-1zM469 582h1v1h-1zM105 562h1v1h-1zM1067 546h1v1h-1z" fill="#1e90ff"/>
<path d="M4.5 684V690M8.5 684V690M12.5 684V691M16.5 684V692M20.5 684V694M24.5 684V695M28.5 684V696M32.5 684V697M36.5 684V699M40.5 684V699M44.5 684V698M48.5 684V696M52.5 684V695M56.5 684V694M60.5 684V693M64.5 684V693M68.5 684V692M72.5 684V690M76.5 684V688M80.5 684V686M84.5 684V685M88.5 683V684M92.5 681V684M96.5 678V684M100.5 675V684M104.5 672V684M108.5 671V684M112.5 670V684M116.5 670V684M120.5 671V684M124.5 673V684M128.5 674V684M132.5 674V684M136.5 674V684M140.5 674V684M144.5 673V684M148.5 672V684M152.5 672V684M156.5 672V684M160.5 674V684M164.5 676V684M168.5 679V684M172.5 682V684M176.5 684V684M180.5 684V686M184.5 684V687M188.5 684V689M192.5 684V690M196.5 684V689M200.5 684V689M204.5 684V687M208.5 684V686M212.5 684V686M216.5 684V685M220.5 684V686M224.5 684V687M228.5 684V688M232.5 684V689M236.5 684V690M240.5 684V690M244.5 684V690M248.5 684V690M252.5 684V688M256.5 684V686M260.5 684V685M264.5 683V684M268.5 683V684M272.5 683V684M276.5 683V684M280.5 682V684M284.5 682V684M288.5 680V684M292.5 679V684M296.5 678V684M300.5 677V684M304.5 676V684M308.5 676V684M312.5 676V684M316.5 677V684M320.5 679V684M324.5 680V684M328.5 680V684M332.5 681V684M336.5 681V684M340.5 679V684M344.5 677V684M348.5 675V684M352.5 673V684M356.5 672V684M360.5 671V684M364.5 672V684M368.5 673V684M372.5 673V684M376.5 675V684M380.5 677V684M384.5 679V684M388.5 680V684M392.5 681V684M396.5 682V684M400.5 682V684M404.5 682V684M408.5 682V684M412.5 684V684M416.5 684V685M420.5 684V686M424.5 684V687M428.5 684V688M432.5 684V689M436.5 684V691M440.5 684V692M444.5 684V694M448.5 684V695M452.5 684V696M456.5 684V696M460.5 684V694M464.5 684V692M468.5 684V691M472.5 684V691M476.5 684V692M480.5 684V694M484.5 684V695M488.5 684V697M492.5 684V699M496.5 684V700M500.5 684V702M504.5 684V704M508.5 684V706M512.5 684V707M516.5 684V708M520.5 684V709M524.5 684V710M528.5 684V711M532.5 684V709M536.5 684V707M540.5 684V706M544.5 684V704M548.5 684V702M552.5 684V697M556.5 684V693M560.5 684V689M564.5 682V684M568.5 675V684M572.5 671V684M576.5 667V684M580.5 660V684M584.5 654V684M588.5 647V684M592.5 645V684M596.5 645V684M600.5 652V684M604.5 657V684M608.5 662V684M612.5 664V684M616.5 671V684M620.5 681V684M624.5 684V693M628.5 684V702M632.5 684V710M636.5 684V713M640.5 684V714M644.5 684V713M648.5 684V706M652.5 684V700M656.5 684V693M660.5 684V690M664.5 684V688M668.5 684V689M672.5 684V692M676.5 684V696M680.5 684V698M684.5 684V700M688.5 684V699M692.5 684V699M696.5 684V696M700.5 684V694M704.5 684V692M708.5 684V692M712.5 684V689M716.5 684V689M720.5 684V691M724.5 684V691M728.5 684V691M732.5 684V692M736.5 684V692M740.5 684V693M744.5 684V695M748.5 684V696M752.5 684V697M756.5 684V696M760.5 684V696M764.5 684V694M768.5 684V691M772.5 684V686M776.5 683V684M780.5 683V684M784.5 684V685M788.5 684V687M792.5 684V689M796.5 684V689M800.5 684V689M804.5 684V690M808.5 684V689M812.5 684V689M816.5 684V691M820.5 684V691M824.5 684V691M828.5 684V689M832.5 684V686M836.5 682V684M840.5 680V684M844.5 680V684M848.5 680V684M852.5 680V684M856.5 678V684M860.5 677V684M864.5 673V684M868.5 668V684M872.5 665V684M876.5 663V684M880.5 659V684M884.5 655V684M888.5 649V684M892.5 646V684M896.5 644V684M900.5 643V684M904.5 641V684M908.5 639V684M912.5 638V684M916.5 642V684M920.5 645V684M924.5 648V684M928.5 650V684M932.5 654V684M936.5 657V684M940.5 660V684M944.5 664V684M948.5 664V684M952.5 663V684M956.5 664V684M960.5 666V684M964.5 668V684M968.5 670V684M972.5 671V684M976.5 672V684M980.5 672V684M984.5 673V684M988.5 674V684M992.5 674V684M996.5 673V684M1000.5 673V684M1004.5 671V684M1008.5 671V684M1012.5 671V684M1016.5 672V684M1020.5 670V684M1024.5 668V684M1028.5 666V684M1032.5 664V684M1036.5 663V684M1040.5 662V684M1044.5 661V684M1048.5 660V684M1052.5 656V684M1056.5 652V684M1060.5 649V684M1064.5 647V684M1068.5 642V684M1072.5 640V684M1076.5 637V684M1080.5 635V684M1084.5 633V684M1088.5 633V684M1092.5 635V684M1096.5 636V684M1100.5 634V684M1104.5 634V684M1108.5 637V684M1112.5 640V684M1116.5 643V684M1120.5 646V684M1124.5 648V684M1128.5 649V684M1132.5 650V684M1136.5 650V684M1140.5 650V684M1144.5 649V684M1148.5 649V684M1152.5 651V684M1156.5 656V684M1160.5 659V684M1164.5 661V684M1168.5 663V684M1172.5 665V684M1176.5 666V684M1180.5 665V684M1184.5 665V684M1188.5 663V684M1192.5 662V684M1196.5 664V684M1200.5 667V684M1204.5 669V684M1208.5 670V684M1212.5 672V684M1216.5 675V684M1220.5 677V684M1224.5 676V684M1228.5 677V684M1232.5 678V684M1236.5 677V684M1240.5 677V684M1244.5 678V684M1248.5 679V684M1252.5 679V684M1256.5 679V684M1260.5 683V684M1264.5 684V687M1268.5 684V690" stroke="#c0c0c0" stroke-width="1" fill="none"/>
<path d="M89 688h2v1h-2zM250 688h3v1h-3zM256 688h3v1h-3zM442 688h3v1h-3zM835 688h3v1h-3zM986 669h2v1h-2zM40 694h2v1h-2zM70 694h3v1h-3zM496 694h2v1h-2zM679 694h3v1h-3zM691 694h3v1h-3zM715 694h3v1h-3zM758 694h2v1h-2zM763 694h3v1h-3zM603 655h3v1h-3zM615 655h2v1h-2zM950 655h2v1h-2zM1171 655h2v1h-2zM94 686h3v1h-3zM232 686h2v1h-2zM437 686h2v1h-2zM799 686h3v1h-3zM842 686h2v1h-2zM943 650h2v1h-2zM1154 650h2v1h-2zM185 680h2v1h-2zM298 680h3v1h-3zM412 680h2v1h-2zM1069 653h2v1h-2zM1165 653h2v1h-2zM4 692h3v1h-3zM10 692h3v1h-3zM22 692h3v1h-3zM28 692h2v1h-2zM77 692h2v1h-2zM460 692h2v1h-2zM722 692h2v1h-2zM746 692h2v1h-2zM775 692h3v1h-3zM172 675h2v1h-2zM364 675h2v1h-2zM871 675h2v1h-2zM1238 675h2v1h-2zM503 697h2v1h-2zM673 697h2v1h-2zM34 693h3v1h-3zM466 693h3v1h-3zM472 693h3v1h-3zM478 693h3v1h-3zM484 693h3v1h-3zM490 693h3v1h-3zM685 693h3v1h-3zM751 693h3v1h-3zM770 693h2v1h-2zM532 707h3v1h-3zM544 707h3v1h-3zM310 678h3v1h-3zM334 678h3v1h-3zM340 678h3v1h-3zM346 678h3v1h-3zM352 678h2v1h-2zM865 678h2v1h-2zM46 696h3v1h-3zM52 696h3v1h-3zM58 696h3v1h-3zM703 696h3v1h-3zM913 645h2v1h-2zM286 682h3v1h-3zM292 682h2v1h-2zM418 682h3v1h-3zM938 647h2v1h-2zM16 691h2v1h-2zM454 691h3v1h-3zM727 691h3v1h-3zM733 691h3v1h-3zM739 691h3v1h-3zM919 643h3v1h-3zM926 643h2v1h-2zM1135 643h2v1h-2zM130 672h3v1h-3zM136 672h3v1h-3zM142 672h3v1h-3zM877 672h2v1h-2zM998 672h2v1h-2zM1003 672h3v1h-3zM1009 672h3v1h-3zM1015 672h3v1h-3zM515 702h2v1h-2zM650 702h2v1h-2zM280 684h2v1h-2zM430 684h3v1h-3zM112 677h2v1h-2zM178 677h3v1h-3zM316 677h3v1h-3zM322 677h3v1h-3zM328 677h3v1h-3zM400 677h2v1h-2zM1249 677h3v1h-3zM1255 677h3v1h-3zM202 687h3v1h-3zM208 687h3v1h-3zM214 687h3v1h-3zM220 687h3v1h-3zM226 687h3v1h-3zM238 687h3v1h-3zM244 687h2v1h-2zM262 687h3v1h-3zM268 687h2v1h-2zM794 687h2v1h-2zM806 687h2v1h-2zM811 687h3v1h-3zM931 644h3v1h-3zM1082 644h2v1h-2zM1159 651h3v1h-3zM191 683h2v1h-2zM424 683h2v1h-2zM853 683h2v1h-2zM1123 639h3v1h-3zM448 689h2v1h-2zM787 689h3v1h-3zM818 689h2v1h-2zM823 689h3v1h-3zM829 689h3v1h-3zM64 695h3v1h-3zM697 695h3v1h-3zM710 695h2v1h-2zM967 663h2v1h-2zM1051 663h2v1h-2zM1190 663h2v1h-2zM1195 663h3v1h-3zM1027 670h3v1h-3zM557 703h2v1h-2zM662 703h2v1h-2zM538 708h3v1h-3zM521 704h2v1h-2zM655 704h3v1h-3zM119 674h2v1h-2zM166 674h3v1h-3zM388 674h2v1h-2zM991 671h3v1h-3zM1022 671h2v1h-2zM1225 671h2v1h-2zM124 673h2v1h-2zM148 673h3v1h-3zM154 673h3v1h-3zM160 673h3v1h-3zM370 673h3v1h-3zM376 673h3v1h-3zM382 673h3v1h-3zM1231 673h3v1h-3zM961 661h2v1h-2zM1183 661h3v1h-3zM979 667h3v1h-3zM1039 667h3v1h-3zM1214 667h2v1h-2zM902 652h2v1h-2zM1046 665h2v1h-2zM1207 665h3v1h-3zM197 685h2v1h-2zM274 685h3v1h-3zM847 685h3v1h-3zM598 658h2v1h-2zM955 658h2v1h-2zM1177 658h2v1h-2zM358 676h3v1h-3zM394 676h3v1h-3zM1243 676h3v1h-3zM1099 636h3v1h-3zM526 706h3v1h-3zM550 706h3v1h-3zM1034 668h2v1h-2zM1219 668h2v1h-2zM1057 660h2v1h-2zM107 679h2v1h-2zM304 679h2v1h-2zM406 679h3v1h-3zM1262 679h2v1h-2zM859 681h2v1h-2zM1267 681h2v1h-2zM1094 637h2v1h-2zM1118 637h2v1h-2zM1147 648h3v1h-3zM609 654h3v1h-3zM82 690h3v1h-3zM782 690h2v1h-2zM509 699h2v1h-2zM1111 635h3v1h-3zM1129 641h2v1h-2zM1141 646h2v1h-2zM1201 664h3v1h-3zM1106 634h2v1h-2zM974 666h2v1h-2zM1063 657h2v1h-2zM667 701h1v1h-1zM793 688h1v1h-1zM1227 672h1v1h-1zM641 691h1v1h-1zM1033 669h1v1h-1zM579 682h1v1h-1zM1179 659h1v1h-1zM1076 649h1v1h-1zM580 681h1v1h-1zM1077 648h1v1h-1zM100 684h1v1h-1zM520 703h1v1h-1zM634 679h1v1h-1zM949 654h1v1h-1zM578 683h1v1h-1zM270 686h1v1h-1zM1075 650h1v1h-1zM963 662h1v1h-1zM901 653h1v1h-1zM1213 666h1v1h-1zM390 675h1v1h-1zM627 667h1v1h-1zM985 668h1v1h-1zM1131 642h1v1h-1zM709 696h1v1h-1zM514 701h1v1h-1zM781 691h1v1h-1zM594 663h1v1h-1zM1021 672h1v1h-1zM196 684h1v1h-1zM498 695h1v1h-1zM639 689h1v1h-1zM745 691h1v1h-1zM462 693h1v1h-1zM636 683h1v1h-1zM564 698h1v1h-1zM402 678h1v1h-1zM997 671h1v1h-1zM891 662h1v1h-1zM969 664h1v1h-1zM118 675h1v1h-1zM294 681h1v1h-1zM633 677h1v2h-1zM562 700h1v1h-1zM925 642h1v1h-1zM568 695h1v1h-1zM88 689h1v1h-1zM769 694h1v1h-1zM626 666h1v1h-1zM817 688h1v1h-1zM436 685h1v1h-1zM174 676h1v1h-1zM426 684h1v1h-1zM629 671h1v1h-1zM637 684h1v2h-1zM126 672h1v1h-1zM1081 645h1v1h-1zM1153 649h1v1h-1zM630 672h1v2h-1zM1093 638h1v1h-1zM617 656h1v1h-1zM1071 652h1v1h-1zM306 678h1v1h-1zM1143 647h1v1h-1zM502 696h1v1h-1zM366 674h1v1h-1zM1189 662h1v1h-1zM861 680h1v1h-1zM1261 678h1v1h-1zM1221 669h1v1h-1zM622 660h1v2h-1zM908 648h1v1h-1zM106 680h1v1h-1zM909 647h1v1h-1zM592 665h1v1h-1zM957 659h1v1h-1zM907 649h1v1h-1zM867 677h1v1h-1zM896 658h1v1h-1zM897 657h1v1h-1zM101 683h1v1h-1zM945 651h1v1h-1zM354 677h1v1h-1zM589 669h1v1h-1zM76 693h1v1h-1zM588 670h1v1h-1zM574 688h1v2h-1zM649 701h1v1h-1zM895 659h1v1h-1zM884 668h1v1h-1zM587 671h1v1h-1zM885 667h1v1h-1zM890 663h1v1h-1zM1167 654h1v1h-1zM805 686h1v1h-1zM644 695h1v1h-1zM883 669h1v1h-1zM234 687h1v1h-1zM1053 662h1v1h-1zM556 704h1v1h-1zM669 699h1v1h-1zM597 659h1v1h-1zM1059 659h1v1h-1zM1088 640h1v1h-1zM661 704h1v1h-1zM1089 639h1v1h-1zM757 693h1v1h-1zM1237 674h1v1h-1zM593 664h1v1h-1zM184 679h1v1h-1zM584 676h1v1h-1zM855 682h1v1h-1zM1087 641h1v1h-1zM18 692h1v1h-1zM973 665h1v1h-1zM1173 656h1v1h-1zM102 682h1v1h-1zM30 693h1v1h-1zM915 644h1v1h-1zM1137 644h1v1h-1zM508 698h1v1h-1zM450 690h1v1h-1zM889 664h1v1h-1zM937 646h1v1h-1zM114 676h1v1h-1zM873 674h1v1h-1zM575 687h1v1h-1zM841 687h1v1h-1zM879 671h1v1h-1zM1105 635h1v1h-1zM645 696h1v1h-1zM414 681h1v1h-1zM246 688h1v1h-1zM1045 666h1v1h-1zM621 659h1v1h-1zM569 694h1v1h-1zM570 693h1v1h-1zM640 690h1v1h-1zM282 683h1v1h-1zM585 675h1v1h-1zM190 682h1v1h-1zM625 665h1v1h-1zM1117 636h1v1h-1zM668 700h1v1h-1zM646 697h1v1h-1zM563 699h1v1h-1zM583 677h1v1h-1zM675 696h1v1h-1zM721 693h1v1h-1zM1065 656h1v1h-1zM42 695h1v1h-1z" fill="#ff0000"/>
</svg>
<div class="box" style="top:155px;background:#000"><span>1.16868</span></div>
<div class="hl" style="top:51px;background:#ff0000"></div>
<div class="mk" style="left:3px;top:49px;border-color:#ff0000"></div>
<div class="mk" style="left:1590px;top:49px;border-color:#ff0000"></div>
<div class="box" style="top:46px;background:#ff0000"><span>1.20037</span></div>
<div class="hl" style="top:86px;background:#ff0000"></div>
<div class="mk" style="left:3px;top:84px;border-color:#ff0000"></div>
<div class="mk" style="left:1590px;top:84px;border-color:#ff0000"></div>
<div class="box" style="top:81px;background:#ff0000"><span>1.19017</span></div>
<div class="hl" style="top:120px;background:#00ff00"></div>
<div class="mk" style="left:3px;top:118px;border-color:#00ff00"></div>
<div class="mk" style="left:1590px;top:118px;border-color:#00ff00"></div>
<div class="box" style="top:115px;background:#00ff00"><span>1.18025</span></div>
<div class="hl" style="top:154px;background:#0000ff"></div>
<div class="mk" style="left:3px;top:152px;border-color:#0000ff"></div>
<div class="mk" style="left:1590px;top:152px;border-color:#0000ff"></div>
<div class="box" style="top:149px;background:#0000ff"><span>1.17005</span></div>
<div class="hl" style="top:188px;background:#0000ff"></div>
<div class="mk" style="left:3px;top:186px;border-color:#0000ff"></div>
<div class="mk" style="left:1590px;top:186px;border-color:#0000ff"></div>
<div class="box" style="top:183px;background:#0000ff"><span>1.16013</span></div>
<svg class="abs" style="left:6px;top:30px" width="10" height="8"><path d="M0.9 1.8h7.2l-3.6 3.9z" fill="#000"/></svg>
<div class="abs" style="left:19px;top:28px;font-size:9px;line-height:11px;white-space:nowrap;letter-spacing:0.2px;transform:translateY(0.7px)">EURUSD,Daily&nbsp; 1.17014 1.17159 1.16771 1.16868</div>
<div class="abs" style="left:8px;top:536px;font-size:9px;line-height:11px;white-space:nowrap;letter-spacing:0.15px;transform:translateY(0.7px)">RSI(14) 36.4304</div>
<div class="abs" style="left:8px;top:630px;font-size:9px;line-height:11px;white-space:nowrap;letter-spacing:0.17px;transform:translateY(0.7px)">MACD(12,26,9) -0.001602 0.000763</div>
<svg class="abs" style="left:1271px;top:26px" width="12" height="7"><path d="M0.8 0h9.4l-4.7 5.2z" fill="#c0c0c0"/></svg>
<div class="dtk" style="left:4px"></div><div class="dt" style="left:4px">20 Sep 2019</div>
<div class="dtk" style="left:68px"></div><div class="dt" style="left:68px">9 Oct 2019</div>
<div class="dtk" style="left:132px"></div><div class="dt" style="left:132px">28 Oct 2019</div>
<div class="dtk" style="left:196px"></div><div class="dt" style="left:196px">15 Nov 2019</div>
<div class="dtk" style="left:260px"></div><div class="dt" style="left:260px">4 Dec 2019</div>
<div class="dtk" style="left:324px"></div><div class="dt" style="left:324px">23 Dec 2019</div>
<div class="dtk" style="left:388px"></div><div class="dt" style="left:388px">10 Jan 2020</div>
<div class="dtk" style="left:452px"></div><div class="dt" style="left:452px">29 Jan 2020</div>
<div class="dtk" style="left:516px"></div><div class="dt" style="left:516px">17 Feb 2020</div>
<div class="dtk" style="left:580px"></div><div class="dt" style="left:580px">6 Mar 2020</div>
<div class="dtk" style="left:644px"></div><div class="dt" style="left:644px">25 Mar 2020</div>
<div class="dtk" style="left:708px"></div><div class="dt" style="left:708px">13 Apr 2020</div>
<div class="dtk" style="left:772px"></div><div class="dt" style="left:772px">1 May 2020</div>
<div class="dtk" style="left:836px"></div><div class="dt" style="left:836px">20 May 2020</div>
<div class="dtk" style="left:900px"></div><div class="dt" style="left:900px">8 Jun 2020</div>
<div class="dtk" style="left:964px"></div><div class="dt" style="left:964px">26 Jun 2020</div>
<div class="dtk" style="left:1028px"></div><div class="dt" style="left:1028px">15 Jul 2020</div>
<div class="dtk" style="left:1092px"></div><div class="dt" style="left:1092px">3 Aug 2020</div>
<div class="dtk" style="left:1156px"></div><div class="dt" style="left:1156px">21 Aug 2020</div>
<div class="dtk" style="left:1220px"></div><div class="dt" style="left:1220px">9 Sep 2020</div>
<div class="abs" style="left:0;top:738px;width:1640px;height:2px;background:#e2e2e2"></div>
<div class="abs" style="left:0;top:740px;width:1640px;height:1px;background:#fafafa"></div>
<div class="abs" style="left:0;top:741px;width:1640px;height:1px;background:#000"></div>
<div class="abs" style="left:0;top:742px;width:1640px;height:18px;background:#f0f0f0"></div>
<div class="abs" style="left:0;top:760px;width:1640px;height:4px;background:#efefef"></div>
<div class="abs" style="left:0;top:742px;width:1px;height:18px;background:#696969"></div>
<div class="abs" style="left:109px;top:742px;width:1px;height:19px;background:#9a9a9a"></div>
<div class="abs" style="left:6px;top:760px;width:104px;height:1px;background:#9a9a9a"></div>
<div class="abs" style="left:6px;top:740px;width:102px;height:2px;background:#fff"></div>
<div class="abs" style="left:5px;top:741px;width:102px;height:18px;background:#fff;border:1px solid #000;border-top:none"></div>
<div class="tab" style="left:17px;color:#000">EURUSD,Daily</div>
<div class="tab" style="left:119px">USDCHF,Daily</div>
<div class="tab" style="left:220px">AUDUSD,Daily</div>
<div class="tab" style="left:323.5px">USDCAD,Daily</div>
<div class="tab" style="left:427px">USDCNH,Daily</div>
<div class="tab" style="left:533px">EURUSD,Daily</div>
<div class="tab" style="left:637px">GBPUSD,H4</div>
<div class="tab" style="left:728px">XAUUSD,H1</div>
<div class="tab" style="left:820px">HK50,H1</div>
<div class="tab" style="left:892px">UK100,H1</div>
<div class="tab" style="left:972px">UK100,H1</div>
<div class="tab" style="left:1052px">GER30,H1</div>
<div class="tab" style="left:1131.5px">FRA40,H1</div>
<div class="tab" style="left:1207.6px">USOil,H4</div>
<div class="tab" style="left:1279.7px">USDJPY,H1</div>
<div class="tab" style="left:1363.8px">DJ30,Daily</div>
<div class="tab" style="left:1443.6px">CHINA300,H1</div>
<div class="tab" style="left:1543.8px">USOil,H1</div>
<div class="sep" style="left:209px"></div>
<div class="sep" style="left:313px"></div>
<div class="sep" style="left:417px"></div>
<div class="sep" style="left:521px"></div>
<div class="sep" style="left:625px"></div>
<div class="sep" style="left:717px"></div>
<div class="sep" style="left:809px"></div>
<div class="sep" style="left:881px"></div>
<div class="sep" style="left:961px"></div>
<div class="sep" style="left:1041px"></div>
<div class="sep" style="left:1121px"></div>
<div class="sep" style="left:1197px"></div>
<div class="sep" style="left:1270px"></div>
<div class="sep" style="left:1353px"></div>
<div class="sep" style="left:1433px"></div>
<div class="sep" style="left:1533px"></div>
<div class="sep" style="left:1606px"></div>
<svg class="abs" style="left:1610px;top:746px" width="28" height="10"><path d="M5 1v7l-3.5-3.5z" fill="#a0a0a0"/><path d="M20 1v7l3.5-3.5z" fill="#000"/></svg>
</body></html>
